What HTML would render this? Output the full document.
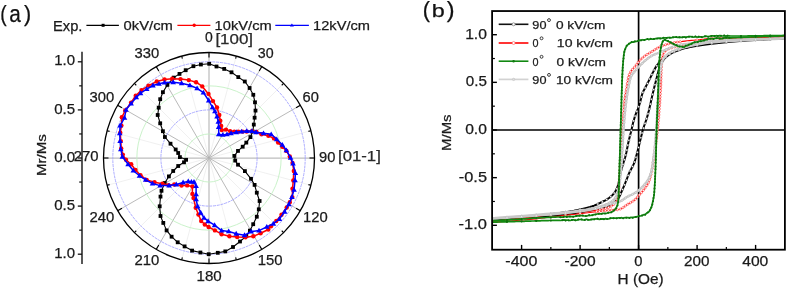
<!DOCTYPE html>
<html><head><meta charset="utf-8"><style>
html,body{margin:0;padding:0;background:#fff;}
svg{display:block;will-change:transform;}
text{font-family:"Liberation Sans", sans-serif;}
</style></head><body>
<svg width="787" height="289" viewBox="0 0 787 289">
<rect width="787" height="289" fill="#fff"/>
<line x1="209.0" y1="158.0" x2="236.31" y2="56.09" stroke="#ececec" stroke-width="0.8"/>
<line x1="209.0" y1="158.0" x2="283.60" y2="83.40" stroke="#ececec" stroke-width="0.8"/>
<line x1="209.0" y1="158.0" x2="310.91" y2="130.69" stroke="#ececec" stroke-width="0.8"/>
<line x1="209.0" y1="158.0" x2="310.91" y2="185.31" stroke="#ececec" stroke-width="0.8"/>
<line x1="209.0" y1="158.0" x2="283.60" y2="232.60" stroke="#ececec" stroke-width="0.8"/>
<line x1="209.0" y1="158.0" x2="236.31" y2="259.91" stroke="#ececec" stroke-width="0.8"/>
<line x1="209.0" y1="158.0" x2="181.69" y2="259.91" stroke="#ececec" stroke-width="0.8"/>
<line x1="209.0" y1="158.0" x2="134.40" y2="232.60" stroke="#ececec" stroke-width="0.8"/>
<line x1="209.0" y1="158.0" x2="107.09" y2="185.31" stroke="#ececec" stroke-width="0.8"/>
<line x1="209.0" y1="158.0" x2="107.09" y2="130.69" stroke="#ececec" stroke-width="0.8"/>
<line x1="209.0" y1="158.0" x2="134.40" y2="83.40" stroke="#ececec" stroke-width="0.8"/>
<line x1="209.0" y1="158.0" x2="181.69" y2="56.09" stroke="#ececec" stroke-width="0.8"/>
<line x1="209.0" y1="158.0" x2="209.00" y2="52.50" stroke="#bdbdbd" stroke-width="1.25"/>
<line x1="209.0" y1="158.0" x2="261.75" y2="66.63" stroke="#acacac" stroke-width="0.85"/>
<line x1="209.0" y1="158.0" x2="300.37" y2="105.25" stroke="#acacac" stroke-width="0.85"/>
<line x1="209.0" y1="158.0" x2="314.50" y2="158.00" stroke="#bdbdbd" stroke-width="1.25"/>
<line x1="209.0" y1="158.0" x2="300.37" y2="210.75" stroke="#acacac" stroke-width="0.85"/>
<line x1="209.0" y1="158.0" x2="261.75" y2="249.37" stroke="#acacac" stroke-width="0.85"/>
<line x1="209.0" y1="158.0" x2="209.00" y2="263.50" stroke="#bdbdbd" stroke-width="1.25"/>
<line x1="209.0" y1="158.0" x2="156.25" y2="249.37" stroke="#acacac" stroke-width="0.85"/>
<line x1="209.0" y1="158.0" x2="117.63" y2="210.75" stroke="#acacac" stroke-width="0.85"/>
<line x1="209.0" y1="158.0" x2="103.50" y2="158.00" stroke="#bdbdbd" stroke-width="1.25"/>
<line x1="209.0" y1="158.0" x2="117.63" y2="105.25" stroke="#acacac" stroke-width="0.85"/>
<line x1="209.0" y1="158.0" x2="156.25" y2="66.63" stroke="#acacac" stroke-width="0.85"/>
<circle cx="209.0" cy="158.0" r="24.05" fill="none" stroke="#c4f0c4" stroke-width="0.9" stroke-dasharray="none"/>
<circle cx="209.0" cy="158.0" r="48.10" fill="none" stroke="#a4a4ff" stroke-width="0.9" stroke-dasharray="3,0.8"/>
<circle cx="209.0" cy="158.0" r="72.15" fill="none" stroke="#c4f0c4" stroke-width="0.9" stroke-dasharray="none"/>
<circle cx="209.0" cy="158.0" r="96.20" fill="none" stroke="#a4a4ff" stroke-width="0.9" stroke-dasharray="3,0.8"/>
<circle cx="209.0" cy="158.0" r="105.5" fill="none" stroke="#000" stroke-width="1.3"/>
<line x1="209.00" y1="52.50" x2="209.00" y2="57.50" stroke="#000" stroke-width="1.1"/>
<line x1="236.31" y1="56.09" x2="235.63" y2="58.61" stroke="#000" stroke-width="1.1"/>
<line x1="261.75" y1="66.63" x2="259.25" y2="70.96" stroke="#000" stroke-width="1.1"/>
<line x1="283.60" y1="83.40" x2="281.76" y2="85.24" stroke="#000" stroke-width="1.1"/>
<line x1="300.37" y1="105.25" x2="296.04" y2="107.75" stroke="#000" stroke-width="1.1"/>
<line x1="310.91" y1="130.69" x2="308.39" y2="131.37" stroke="#000" stroke-width="1.1"/>
<line x1="314.50" y1="158.00" x2="309.50" y2="158.00" stroke="#000" stroke-width="1.1"/>
<line x1="310.91" y1="185.31" x2="308.39" y2="184.63" stroke="#000" stroke-width="1.1"/>
<line x1="300.37" y1="210.75" x2="296.04" y2="208.25" stroke="#000" stroke-width="1.1"/>
<line x1="283.60" y1="232.60" x2="281.76" y2="230.76" stroke="#000" stroke-width="1.1"/>
<line x1="261.75" y1="249.37" x2="259.25" y2="245.04" stroke="#000" stroke-width="1.1"/>
<line x1="236.31" y1="259.91" x2="235.63" y2="257.39" stroke="#000" stroke-width="1.1"/>
<line x1="209.00" y1="263.50" x2="209.00" y2="258.50" stroke="#000" stroke-width="1.1"/>
<line x1="181.69" y1="259.91" x2="182.37" y2="257.39" stroke="#000" stroke-width="1.1"/>
<line x1="156.25" y1="249.37" x2="158.75" y2="245.04" stroke="#000" stroke-width="1.1"/>
<line x1="134.40" y1="232.60" x2="136.24" y2="230.76" stroke="#000" stroke-width="1.1"/>
<line x1="117.63" y1="210.75" x2="121.96" y2="208.25" stroke="#000" stroke-width="1.1"/>
<line x1="107.09" y1="185.31" x2="109.61" y2="184.63" stroke="#000" stroke-width="1.1"/>
<line x1="103.50" y1="158.00" x2="108.50" y2="158.00" stroke="#000" stroke-width="1.1"/>
<line x1="107.09" y1="130.69" x2="109.61" y2="131.37" stroke="#000" stroke-width="1.1"/>
<line x1="117.63" y1="105.25" x2="121.96" y2="107.75" stroke="#000" stroke-width="1.1"/>
<line x1="134.40" y1="83.40" x2="136.24" y2="85.24" stroke="#000" stroke-width="1.1"/>
<line x1="156.25" y1="66.63" x2="158.75" y2="70.96" stroke="#000" stroke-width="1.1"/>
<line x1="181.69" y1="56.09" x2="182.37" y2="58.61" stroke="#000" stroke-width="1.1"/>
<polyline points="209.2,63.8 216.5,66.5 224.2,68.9 231.5,72.3 238.3,77.1 244.8,81.5 249.6,88.0 253.3,94.8 255.0,102.3 255.5,110.6 254.6,117.7 253.8,124.6 252.7,131.5 250.4,137.1 246.3,142.6 242.7,146.7 238.0,150.9 234.4,155.9 235.2,160.6 238.0,164.7 244.9,171.1 251.0,178.8 254.6,184.9 256.8,192.7 259.6,201.0 258.8,209.3 256.8,216.7 253.2,224.2 249.9,230.6 246.3,236.1 240.0,241.5 233.0,247.0 225.3,251.4 217.8,252.8 208.7,254.2 200.4,252.5 192.1,250.6 184.6,246.4 177.7,242.3 171.6,236.7 166.6,230.4 163.3,222.9 160.5,216.0 159.7,206.3 160.5,196.6 161.5,190.8 164.7,183.0 168.9,176.4 173.2,171.0 178.2,166.0 184.0,162.3 186.1,159.8 179.9,157.1 178.2,153.0 175.7,149.5 170.5,143.7 164.9,137.0 162.9,131.2 160.2,123.3 157.7,115.0 158.7,107.7 160.2,99.2 162.9,92.2 167.4,84.9 173.7,77.6 179.5,73.9 185.7,70.2 193.4,66.2 200.9,64.5 209.2,63.8" fill="none" stroke="#000" stroke-width="1.1" stroke-linejoin="round" />
<rect x="207.30" y="61.90" width="3.8" height="3.8" fill="#000"/>
<rect x="214.60" y="64.60" width="3.8" height="3.8" fill="#000"/>
<rect x="222.30" y="67.00" width="3.8" height="3.8" fill="#000"/>
<rect x="229.60" y="70.40" width="3.8" height="3.8" fill="#000"/>
<rect x="236.40" y="75.20" width="3.8" height="3.8" fill="#000"/>
<rect x="242.90" y="79.60" width="3.8" height="3.8" fill="#000"/>
<rect x="247.70" y="86.10" width="3.8" height="3.8" fill="#000"/>
<rect x="251.40" y="92.90" width="3.8" height="3.8" fill="#000"/>
<rect x="253.10" y="100.40" width="3.8" height="3.8" fill="#000"/>
<rect x="253.60" y="108.70" width="3.8" height="3.8" fill="#000"/>
<rect x="252.70" y="115.80" width="3.8" height="3.8" fill="#000"/>
<rect x="251.90" y="122.70" width="3.8" height="3.8" fill="#000"/>
<rect x="250.80" y="129.60" width="3.8" height="3.8" fill="#000"/>
<rect x="248.50" y="135.20" width="3.8" height="3.8" fill="#000"/>
<rect x="244.40" y="140.70" width="3.8" height="3.8" fill="#000"/>
<rect x="240.80" y="144.80" width="3.8" height="3.8" fill="#000"/>
<rect x="236.10" y="149.00" width="3.8" height="3.8" fill="#000"/>
<rect x="232.50" y="154.00" width="3.8" height="3.8" fill="#000"/>
<rect x="233.30" y="158.70" width="3.8" height="3.8" fill="#000"/>
<rect x="236.10" y="162.80" width="3.8" height="3.8" fill="#000"/>
<rect x="243.00" y="169.20" width="3.8" height="3.8" fill="#000"/>
<rect x="249.10" y="176.90" width="3.8" height="3.8" fill="#000"/>
<rect x="252.70" y="183.00" width="3.8" height="3.8" fill="#000"/>
<rect x="254.90" y="190.80" width="3.8" height="3.8" fill="#000"/>
<rect x="257.70" y="199.10" width="3.8" height="3.8" fill="#000"/>
<rect x="256.90" y="207.40" width="3.8" height="3.8" fill="#000"/>
<rect x="254.90" y="214.80" width="3.8" height="3.8" fill="#000"/>
<rect x="251.30" y="222.30" width="3.8" height="3.8" fill="#000"/>
<rect x="248.00" y="228.70" width="3.8" height="3.8" fill="#000"/>
<rect x="244.40" y="234.20" width="3.8" height="3.8" fill="#000"/>
<rect x="238.10" y="239.60" width="3.8" height="3.8" fill="#000"/>
<rect x="231.10" y="245.10" width="3.8" height="3.8" fill="#000"/>
<rect x="223.40" y="249.50" width="3.8" height="3.8" fill="#000"/>
<rect x="215.90" y="250.90" width="3.8" height="3.8" fill="#000"/>
<rect x="206.80" y="252.30" width="3.8" height="3.8" fill="#000"/>
<rect x="198.50" y="250.60" width="3.8" height="3.8" fill="#000"/>
<rect x="190.20" y="248.70" width="3.8" height="3.8" fill="#000"/>
<rect x="182.70" y="244.50" width="3.8" height="3.8" fill="#000"/>
<rect x="175.80" y="240.40" width="3.8" height="3.8" fill="#000"/>
<rect x="169.70" y="234.80" width="3.8" height="3.8" fill="#000"/>
<rect x="164.70" y="228.50" width="3.8" height="3.8" fill="#000"/>
<rect x="161.40" y="221.00" width="3.8" height="3.8" fill="#000"/>
<rect x="158.60" y="214.10" width="3.8" height="3.8" fill="#000"/>
<rect x="157.80" y="204.40" width="3.8" height="3.8" fill="#000"/>
<rect x="158.60" y="194.70" width="3.8" height="3.8" fill="#000"/>
<rect x="159.60" y="188.90" width="3.8" height="3.8" fill="#000"/>
<rect x="162.80" y="181.10" width="3.8" height="3.8" fill="#000"/>
<rect x="167.00" y="174.50" width="3.8" height="3.8" fill="#000"/>
<rect x="171.30" y="169.10" width="3.8" height="3.8" fill="#000"/>
<rect x="176.30" y="164.10" width="3.8" height="3.8" fill="#000"/>
<rect x="182.10" y="160.40" width="3.8" height="3.8" fill="#000"/>
<rect x="184.20" y="157.90" width="3.8" height="3.8" fill="#000"/>
<rect x="178.00" y="155.20" width="3.8" height="3.8" fill="#000"/>
<rect x="176.30" y="151.10" width="3.8" height="3.8" fill="#000"/>
<rect x="173.80" y="147.60" width="3.8" height="3.8" fill="#000"/>
<rect x="168.60" y="141.80" width="3.8" height="3.8" fill="#000"/>
<rect x="163.00" y="135.10" width="3.8" height="3.8" fill="#000"/>
<rect x="161.00" y="129.30" width="3.8" height="3.8" fill="#000"/>
<rect x="158.30" y="121.40" width="3.8" height="3.8" fill="#000"/>
<rect x="155.80" y="113.10" width="3.8" height="3.8" fill="#000"/>
<rect x="156.80" y="105.80" width="3.8" height="3.8" fill="#000"/>
<rect x="158.30" y="97.30" width="3.8" height="3.8" fill="#000"/>
<rect x="161.00" y="90.30" width="3.8" height="3.8" fill="#000"/>
<rect x="165.50" y="83.00" width="3.8" height="3.8" fill="#000"/>
<rect x="171.80" y="75.70" width="3.8" height="3.8" fill="#000"/>
<rect x="177.60" y="72.00" width="3.8" height="3.8" fill="#000"/>
<rect x="183.80" y="68.30" width="3.8" height="3.8" fill="#000"/>
<rect x="191.50" y="64.30" width="3.8" height="3.8" fill="#000"/>
<rect x="199.00" y="62.60" width="3.8" height="3.8" fill="#000"/>
<polyline points="221.8,130.1 226.0,129.6 230.1,131.1 234.3,131.6 238.4,131.6 242.6,131.6 246.7,131.6 251.9,131.1 256.5,132.0 261.5,134.3 268.4,135.7 274.0,138.4 278.1,142.6 282.3,146.7 286.4,150.9 289.8,156.4 292.5,163.0 293.8,171.0 293.3,180.4 292.5,188.8 292.3,197.1 289.8,202.3 286.7,207.5 281.5,214.8 276.3,221.0 271.0,226.3 268.3,229.5 260.6,233.2 253.3,236.3 245.5,237.3 237.2,237.0 229.4,236.3 221.6,234.2 214.9,230.4 208.6,227.0 204.8,224.5 201.2,221.0 198.4,214.6 195.7,207.7 193.5,198.0 192.4,193.9 192.4,186.4 187.2,185.4 181.5,185.6 174.3,184.5 168.5,185.1 162.3,183.8 154.5,182.2 146.7,179.9 140.5,175.2 135.5,170.0 131.2,164.3 126.0,159.8 122.8,154.6 121.2,148.4 120.8,141.1 120.3,132.8 121.4,125.6 121.8,117.3 125.2,110.5 131.1,102.6 135.7,95.7 141.5,90.1 148.5,85.6 156.8,81.5 164.5,79.5 172.2,78.7 180.5,79.1 188.8,80.1 196.1,82.2 202.3,86.4 208.5,93.9 213.0,101.1 217.0,107.5 219.3,115.0 220.3,120.8 221.2,126.0 221.8,130.1" fill="none" stroke="#f00" stroke-width="1.5" stroke-linejoin="round" />
<circle cx="221.80" cy="130.10" r="2.2" fill="#f00"/>
<circle cx="226.00" cy="129.60" r="2.2" fill="#f00"/>
<circle cx="230.10" cy="131.10" r="2.2" fill="#f00"/>
<circle cx="234.30" cy="131.60" r="2.2" fill="#f00"/>
<circle cx="238.40" cy="131.60" r="2.2" fill="#f00"/>
<circle cx="242.60" cy="131.60" r="2.2" fill="#f00"/>
<circle cx="246.70" cy="131.60" r="2.2" fill="#f00"/>
<circle cx="251.90" cy="131.10" r="2.2" fill="#f00"/>
<circle cx="256.50" cy="132.00" r="2.2" fill="#f00"/>
<circle cx="261.50" cy="134.30" r="2.2" fill="#f00"/>
<circle cx="268.40" cy="135.70" r="2.2" fill="#f00"/>
<circle cx="274.00" cy="138.40" r="2.2" fill="#f00"/>
<circle cx="278.10" cy="142.60" r="2.2" fill="#f00"/>
<circle cx="282.30" cy="146.70" r="2.2" fill="#f00"/>
<circle cx="286.40" cy="150.90" r="2.2" fill="#f00"/>
<circle cx="289.80" cy="156.40" r="2.2" fill="#f00"/>
<circle cx="292.50" cy="163.00" r="2.2" fill="#f00"/>
<circle cx="293.80" cy="171.00" r="2.2" fill="#f00"/>
<circle cx="293.30" cy="180.40" r="2.2" fill="#f00"/>
<circle cx="292.50" cy="188.80" r="2.2" fill="#f00"/>
<circle cx="292.30" cy="197.10" r="2.2" fill="#f00"/>
<circle cx="289.80" cy="202.30" r="2.2" fill="#f00"/>
<circle cx="286.70" cy="207.50" r="2.2" fill="#f00"/>
<circle cx="281.50" cy="214.80" r="2.2" fill="#f00"/>
<circle cx="276.30" cy="221.00" r="2.2" fill="#f00"/>
<circle cx="271.00" cy="226.30" r="2.2" fill="#f00"/>
<circle cx="268.30" cy="229.50" r="2.2" fill="#f00"/>
<circle cx="260.60" cy="233.20" r="2.2" fill="#f00"/>
<circle cx="253.30" cy="236.30" r="2.2" fill="#f00"/>
<circle cx="245.50" cy="237.30" r="2.2" fill="#f00"/>
<circle cx="237.20" cy="237.00" r="2.2" fill="#f00"/>
<circle cx="229.40" cy="236.30" r="2.2" fill="#f00"/>
<circle cx="221.60" cy="234.20" r="2.2" fill="#f00"/>
<circle cx="214.90" cy="230.40" r="2.2" fill="#f00"/>
<circle cx="208.60" cy="227.00" r="2.2" fill="#f00"/>
<circle cx="204.80" cy="224.50" r="2.2" fill="#f00"/>
<circle cx="201.20" cy="221.00" r="2.2" fill="#f00"/>
<circle cx="198.40" cy="214.60" r="2.2" fill="#f00"/>
<circle cx="195.70" cy="207.70" r="2.2" fill="#f00"/>
<circle cx="193.50" cy="198.00" r="2.2" fill="#f00"/>
<circle cx="192.40" cy="193.90" r="2.2" fill="#f00"/>
<circle cx="192.40" cy="186.40" r="2.2" fill="#f00"/>
<circle cx="187.20" cy="185.40" r="2.2" fill="#f00"/>
<circle cx="181.50" cy="185.60" r="2.2" fill="#f00"/>
<circle cx="174.30" cy="184.50" r="2.2" fill="#f00"/>
<circle cx="168.50" cy="185.10" r="2.2" fill="#f00"/>
<circle cx="162.30" cy="183.80" r="2.2" fill="#f00"/>
<circle cx="154.50" cy="182.20" r="2.2" fill="#f00"/>
<circle cx="146.70" cy="179.90" r="2.2" fill="#f00"/>
<circle cx="140.50" cy="175.20" r="2.2" fill="#f00"/>
<circle cx="135.50" cy="170.00" r="2.2" fill="#f00"/>
<circle cx="131.20" cy="164.30" r="2.2" fill="#f00"/>
<circle cx="126.00" cy="159.80" r="2.2" fill="#f00"/>
<circle cx="122.80" cy="154.60" r="2.2" fill="#f00"/>
<circle cx="121.20" cy="148.40" r="2.2" fill="#f00"/>
<circle cx="120.80" cy="141.10" r="2.2" fill="#f00"/>
<circle cx="120.30" cy="132.80" r="2.2" fill="#f00"/>
<circle cx="121.40" cy="125.60" r="2.2" fill="#f00"/>
<circle cx="121.80" cy="117.30" r="2.2" fill="#f00"/>
<circle cx="125.20" cy="110.50" r="2.2" fill="#f00"/>
<circle cx="131.10" cy="102.60" r="2.2" fill="#f00"/>
<circle cx="135.70" cy="95.70" r="2.2" fill="#f00"/>
<circle cx="141.50" cy="90.10" r="2.2" fill="#f00"/>
<circle cx="148.50" cy="85.60" r="2.2" fill="#f00"/>
<circle cx="156.80" cy="81.50" r="2.2" fill="#f00"/>
<circle cx="164.50" cy="79.50" r="2.2" fill="#f00"/>
<circle cx="172.20" cy="78.70" r="2.2" fill="#f00"/>
<circle cx="180.50" cy="79.10" r="2.2" fill="#f00"/>
<circle cx="188.80" cy="80.10" r="2.2" fill="#f00"/>
<circle cx="196.10" cy="82.20" r="2.2" fill="#f00"/>
<circle cx="202.30" cy="86.40" r="2.2" fill="#f00"/>
<circle cx="208.50" cy="93.90" r="2.2" fill="#f00"/>
<circle cx="213.00" cy="101.10" r="2.2" fill="#f00"/>
<circle cx="217.00" cy="107.50" r="2.2" fill="#f00"/>
<circle cx="219.30" cy="115.00" r="2.2" fill="#f00"/>
<circle cx="220.30" cy="120.80" r="2.2" fill="#f00"/>
<circle cx="221.20" cy="126.00" r="2.2" fill="#f00"/>
<polyline points="218.7,134.3 222.8,134.9 227.0,134.3 231.1,133.2 236.3,132.2 241.5,131.6 246.7,131.1 251.9,131.1 256.0,132.2 263.5,133.3 271.2,134.3 276.7,139.3 282.3,144.8 286.4,150.3 290.6,157.8 293.0,163.5 295.4,173.1 295.0,180.4 294.0,189.8 291.9,197.1 288.8,204.4 284.6,211.7 279.4,219.0 273.3,223.7 266.8,226.9 259.0,230.6 251.2,231.6 244.5,235.2 236.2,233.7 228.7,231.4 221.6,230.6 214.6,225.2 208.1,221.2 204.0,217.8 200.7,212.7 197.6,206.3 196.1,199.4 196.1,194.4 196.1,186.1 194.0,181.9 191.4,181.9 188.3,181.4 183.1,182.5 176.3,184.5 169.1,185.6 160.2,185.6 152.5,183.5 145.7,179.9 139.5,175.8 133.3,170.6 128.1,164.3 122.4,156.7 120.8,149.4 120.1,141.1 119.7,133.3 120.1,125.6 124.5,117.9 126.0,109.8 131.1,103.6 136.3,97.4 140.5,93.2 146.7,89.1 152.9,85.5 159.0,83.8 164.5,82.6 173.2,82.2 181.6,83.2 189.9,85.3 197.1,88.4 203.4,92.6 208.7,100.5 212.5,107.3 214.9,111.4 217.0,116.6 218.3,121.8 218.7,127.0 218.7,134.3" fill="none" stroke="#00f" stroke-width="1.5" stroke-linejoin="round" />
<path d="M218.70,131.38L221.50,136.25L215.90,136.25Z" fill="#00f"/>
<path d="M222.80,131.98L225.60,136.85L220.00,136.85Z" fill="#00f"/>
<path d="M227.00,131.38L229.80,136.25L224.20,136.25Z" fill="#00f"/>
<path d="M231.10,130.28L233.90,135.15L228.30,135.15Z" fill="#00f"/>
<path d="M236.30,129.28L239.10,134.15L233.50,134.15Z" fill="#00f"/>
<path d="M241.50,128.68L244.30,133.55L238.70,133.55Z" fill="#00f"/>
<path d="M246.70,128.18L249.50,133.05L243.90,133.05Z" fill="#00f"/>
<path d="M251.90,128.18L254.70,133.05L249.10,133.05Z" fill="#00f"/>
<path d="M256.00,129.28L258.80,134.15L253.20,134.15Z" fill="#00f"/>
<path d="M263.50,130.38L266.30,135.25L260.70,135.25Z" fill="#00f"/>
<path d="M271.20,131.38L274.00,136.25L268.40,136.25Z" fill="#00f"/>
<path d="M276.70,136.38L279.50,141.25L273.90,141.25Z" fill="#00f"/>
<path d="M282.30,141.88L285.10,146.75L279.50,146.75Z" fill="#00f"/>
<path d="M286.40,147.38L289.20,152.25L283.60,152.25Z" fill="#00f"/>
<path d="M290.60,154.88L293.40,159.75L287.80,159.75Z" fill="#00f"/>
<path d="M293.00,160.58L295.80,165.45L290.20,165.45Z" fill="#00f"/>
<path d="M295.40,170.18L298.20,175.05L292.60,175.05Z" fill="#00f"/>
<path d="M295.00,177.48L297.80,182.35L292.20,182.35Z" fill="#00f"/>
<path d="M294.00,186.88L296.80,191.75L291.20,191.75Z" fill="#00f"/>
<path d="M291.90,194.18L294.70,199.05L289.10,199.05Z" fill="#00f"/>
<path d="M288.80,201.48L291.60,206.35L286.00,206.35Z" fill="#00f"/>
<path d="M284.60,208.78L287.40,213.65L281.80,213.65Z" fill="#00f"/>
<path d="M279.40,216.08L282.20,220.95L276.60,220.95Z" fill="#00f"/>
<path d="M273.30,220.78L276.10,225.65L270.50,225.65Z" fill="#00f"/>
<path d="M266.80,223.98L269.60,228.85L264.00,228.85Z" fill="#00f"/>
<path d="M259.00,227.68L261.80,232.55L256.20,232.55Z" fill="#00f"/>
<path d="M251.20,228.68L254.00,233.55L248.40,233.55Z" fill="#00f"/>
<path d="M244.50,232.28L247.30,237.15L241.70,237.15Z" fill="#00f"/>
<path d="M236.20,230.78L239.00,235.65L233.40,235.65Z" fill="#00f"/>
<path d="M228.70,228.48L231.50,233.35L225.90,233.35Z" fill="#00f"/>
<path d="M221.60,227.68L224.40,232.55L218.80,232.55Z" fill="#00f"/>
<path d="M214.60,222.28L217.40,227.15L211.80,227.15Z" fill="#00f"/>
<path d="M208.10,218.28L210.90,223.15L205.30,223.15Z" fill="#00f"/>
<path d="M204.00,214.88L206.80,219.75L201.20,219.75Z" fill="#00f"/>
<path d="M200.70,209.78L203.50,214.65L197.90,214.65Z" fill="#00f"/>
<path d="M197.60,203.38L200.40,208.25L194.80,208.25Z" fill="#00f"/>
<path d="M196.10,196.48L198.90,201.35L193.30,201.35Z" fill="#00f"/>
<path d="M196.10,191.48L198.90,196.35L193.30,196.35Z" fill="#00f"/>
<path d="M196.10,183.18L198.90,188.05L193.30,188.05Z" fill="#00f"/>
<path d="M194.00,178.98L196.80,183.85L191.20,183.85Z" fill="#00f"/>
<path d="M191.40,178.98L194.20,183.85L188.60,183.85Z" fill="#00f"/>
<path d="M188.30,178.48L191.10,183.35L185.50,183.35Z" fill="#00f"/>
<path d="M183.10,179.58L185.90,184.45L180.30,184.45Z" fill="#00f"/>
<path d="M176.30,181.58L179.10,186.45L173.50,186.45Z" fill="#00f"/>
<path d="M169.10,182.68L171.90,187.55L166.30,187.55Z" fill="#00f"/>
<path d="M160.20,182.68L163.00,187.55L157.40,187.55Z" fill="#00f"/>
<path d="M152.50,180.58L155.30,185.45L149.70,185.45Z" fill="#00f"/>
<path d="M145.70,176.98L148.50,181.85L142.90,181.85Z" fill="#00f"/>
<path d="M139.50,172.88L142.30,177.75L136.70,177.75Z" fill="#00f"/>
<path d="M133.30,167.68L136.10,172.55L130.50,172.55Z" fill="#00f"/>
<path d="M128.10,161.38L130.90,166.25L125.30,166.25Z" fill="#00f"/>
<path d="M122.40,153.78L125.20,158.65L119.60,158.65Z" fill="#00f"/>
<path d="M120.80,146.48L123.60,151.35L118.00,151.35Z" fill="#00f"/>
<path d="M120.10,138.18L122.90,143.05L117.30,143.05Z" fill="#00f"/>
<path d="M119.70,130.38L122.50,135.25L116.90,135.25Z" fill="#00f"/>
<path d="M120.10,122.68L122.90,127.55L117.30,127.55Z" fill="#00f"/>
<path d="M124.50,114.98L127.30,119.85L121.70,119.85Z" fill="#00f"/>
<path d="M126.00,106.88L128.80,111.75L123.20,111.75Z" fill="#00f"/>
<path d="M131.10,100.68L133.90,105.55L128.30,105.55Z" fill="#00f"/>
<path d="M136.30,94.48L139.10,99.35L133.50,99.35Z" fill="#00f"/>
<path d="M140.50,90.28L143.30,95.15L137.70,95.15Z" fill="#00f"/>
<path d="M146.70,86.18L149.50,91.05L143.90,91.05Z" fill="#00f"/>
<path d="M152.90,82.58L155.70,87.45L150.10,87.45Z" fill="#00f"/>
<path d="M159.00,80.88L161.80,85.75L156.20,85.75Z" fill="#00f"/>
<path d="M164.50,79.68L167.30,84.55L161.70,84.55Z" fill="#00f"/>
<path d="M173.20,79.28L176.00,84.15L170.40,84.15Z" fill="#00f"/>
<path d="M181.60,80.28L184.40,85.15L178.80,85.15Z" fill="#00f"/>
<path d="M189.90,82.38L192.70,87.25L187.10,87.25Z" fill="#00f"/>
<path d="M197.10,85.48L199.90,90.35L194.30,90.35Z" fill="#00f"/>
<path d="M203.40,89.68L206.20,94.55L200.60,94.55Z" fill="#00f"/>
<path d="M208.70,97.58L211.50,102.45L205.90,102.45Z" fill="#00f"/>
<path d="M212.50,104.38L215.30,109.25L209.70,109.25Z" fill="#00f"/>
<path d="M214.90,108.48L217.70,113.35L212.10,113.35Z" fill="#00f"/>
<path d="M217.00,113.68L219.80,118.55L214.20,118.55Z" fill="#00f"/>
<path d="M218.30,118.88L221.10,123.75L215.50,123.75Z" fill="#00f"/>
<path d="M218.70,124.08L221.50,128.95L215.90,128.95Z" fill="#00f"/>
<line x1="82" y1="51.7" x2="82" y2="264" stroke="#111" stroke-width="1.4"/>
<line x1="77.8" y1="254.20" x2="82" y2="254.20" stroke="#111" stroke-width="1.3"/>
<line x1="77.8" y1="206.10" x2="82" y2="206.10" stroke="#111" stroke-width="1.3"/>
<line x1="77.8" y1="158.00" x2="82" y2="158.00" stroke="#111" stroke-width="1.3"/>
<line x1="77.8" y1="109.90" x2="82" y2="109.90" stroke="#111" stroke-width="1.3"/>
<line x1="77.8" y1="61.80" x2="82" y2="61.80" stroke="#111" stroke-width="1.3"/>
<line x1="79.2" y1="230.15" x2="82" y2="230.15" stroke="#111" stroke-width="1.2"/>
<line x1="79.2" y1="182.05" x2="82" y2="182.05" stroke="#111" stroke-width="1.2"/>
<line x1="79.2" y1="133.95" x2="82" y2="133.95" stroke="#111" stroke-width="1.2"/>
<line x1="79.2" y1="85.85" x2="82" y2="85.85" stroke="#111" stroke-width="1.2"/>
<text x="54.30" y="65.46" font-size="14.23" fill="#1a1a1a" stroke="#1a1a1a" stroke-width="0.25" textLength="20.80" lengthAdjust="spacingAndGlyphs" >1.0</text>
<text x="54.20" y="113.56" font-size="14.23" fill="#1a1a1a" stroke="#1a1a1a" stroke-width="0.25" textLength="20.91" lengthAdjust="spacingAndGlyphs" >0.5</text>
<text x="54.20" y="161.66" font-size="14.23" fill="#1a1a1a" stroke="#1a1a1a" stroke-width="0.25" textLength="20.91" lengthAdjust="spacingAndGlyphs" >0.0</text>
<text x="54.20" y="209.76" font-size="14.23" fill="#1a1a1a" stroke="#1a1a1a" stroke-width="0.25" textLength="20.91" lengthAdjust="spacingAndGlyphs" >0.5</text>
<text x="54.30" y="257.86" font-size="14.23" fill="#1a1a1a" stroke="#1a1a1a" stroke-width="0.25" textLength="20.80" lengthAdjust="spacingAndGlyphs" >1.0</text>
<text x="204.94" y="41.66" font-size="14.23" fill="#1a1a1a" stroke="#1a1a1a" stroke-width="0.25" textLength="7.76" lengthAdjust="spacingAndGlyphs" >0</text>
<text x="257.78" y="57.86" font-size="14.23" fill="#1a1a1a" stroke="#1a1a1a" stroke-width="0.25" textLength="15.82" lengthAdjust="spacingAndGlyphs" >30</text>
<text x="302.62" y="101.66" font-size="14.08" fill="#1a1a1a" stroke="#1a1a1a" stroke-width="0.25" textLength="16.30" lengthAdjust="spacingAndGlyphs" >60</text>
<text x="318.96" y="161.55" font-size="14.65" fill="#1a1a1a" stroke="#1a1a1a" stroke-width="0.25" textLength="16.36" lengthAdjust="spacingAndGlyphs" >90</text>
<text x="303.02" y="221.56" font-size="14.23" fill="#1a1a1a" stroke="#1a1a1a" stroke-width="0.25" textLength="24.65" lengthAdjust="spacingAndGlyphs" >120</text>
<text x="257.81" y="265.26" font-size="14.23" fill="#1a1a1a" stroke="#1a1a1a" stroke-width="0.25" textLength="24.87" lengthAdjust="spacingAndGlyphs" >150</text>
<text x="196.49" y="281.26" font-size="14.23" fill="#1a1a1a" stroke="#1a1a1a" stroke-width="0.25" textLength="25.19" lengthAdjust="spacingAndGlyphs" >180</text>
<text x="134.46" y="265.26" font-size="14.23" fill="#1a1a1a" stroke="#1a1a1a" stroke-width="0.25" textLength="24.82" lengthAdjust="spacingAndGlyphs" >210</text>
<text x="89.46" y="221.55" font-size="14.65" fill="#1a1a1a" stroke="#1a1a1a" stroke-width="0.25" textLength="24.82" lengthAdjust="spacingAndGlyphs" >240</text>
<text x="73.76" y="161.46" font-size="14.08" fill="#1a1a1a" stroke="#1a1a1a" stroke-width="0.25" textLength="24.82" lengthAdjust="spacingAndGlyphs" >270</text>
<text x="89.61" y="101.56" font-size="14.23" fill="#1a1a1a" stroke="#1a1a1a" stroke-width="0.25" textLength="24.66" lengthAdjust="spacingAndGlyphs" >300</text>
<text x="134.61" y="57.66" font-size="13.94" fill="#1a1a1a" stroke="#1a1a1a" stroke-width="0.25" textLength="24.66" lengthAdjust="spacingAndGlyphs" >330</text>
<text x="215.42" y="43.87" font-size="13.94" fill="#2a2a2a" stroke="#2a2a2a" stroke-width="0.25" textLength="37.64" lengthAdjust="spacingAndGlyphs" >[100]</text>
<text x="338.03" y="160.67" font-size="13.94" fill="#2a2a2a" stroke="#2a2a2a" stroke-width="0.25" textLength="42.80" lengthAdjust="spacingAndGlyphs" >[01-1]</text>
<text x="0" y="0" font-size="12.97" fill="#1a1a1a" stroke="#1a1a1a" stroke-width="0.25" textLength="41.86" lengthAdjust="spacingAndGlyphs" transform="translate(45.87,176.11) rotate(-90)">Mr/Ms</text>
<text x="0.35" y="21.13" font-size="22.23" fill="#111" stroke="#111" stroke-width="0.25" textLength="6.41" lengthAdjust="spacingAndGlyphs" >(</text>
<text x="9.37" y="21.77" font-size="23.09" fill="#111" stroke="#111" stroke-width="0.25" textLength="11.55" lengthAdjust="spacingAndGlyphs" >a</text>
<text x="23.98" y="21.13" font-size="22.23" fill="#111" stroke="#111" stroke-width="0.25" textLength="7.18" lengthAdjust="spacingAndGlyphs" >)</text>
<text x="53.02" y="31.43" font-size="15.11" fill="#1a1a1a" stroke="#1a1a1a" stroke-width="0.25" textLength="29.41" lengthAdjust="spacingAndGlyphs" >Exp.</text>
<line x1="86.4" y1="25.3" x2="118.9" y2="25.3" stroke="#000" stroke-width="1.3"/>
<rect x="101.6" y="23.8" width="3" height="3" fill="#000"/>
<text x="123.61" y="30.06" font-size="13.51" fill="#1a1a1a" stroke="#1a1a1a" stroke-width="0.25" textLength="49.24" lengthAdjust="spacingAndGlyphs" >0kV/cm</text>
<line x1="177.4" y1="25.3" x2="210.4" y2="25.3" stroke="#f00" stroke-width="1.3"/>
<circle cx="194.2" cy="25.3" r="1.7" fill="#f00"/>
<text x="214.63" y="30.06" font-size="13.51" fill="#1a1a1a" stroke="#1a1a1a" stroke-width="0.25" textLength="57.10" lengthAdjust="spacingAndGlyphs" >10kV/cm</text>
<line x1="275.3" y1="25.3" x2="308.9" y2="25.3" stroke="#00f" stroke-width="1.3"/>
<path d="M291.90,23.38L293.90,26.58L289.90,26.58Z" fill="#00f"/>
<text x="313.13" y="30.07" font-size="13.38" fill="#1a1a1a" stroke="#1a1a1a" stroke-width="0.25" textLength="56.79" lengthAdjust="spacingAndGlyphs" >12kV/cm</text>
<text x="422.81" y="17.24" font-size="21.70" fill="#111" stroke="#111" stroke-width="0.25" textLength="7.17" lengthAdjust="spacingAndGlyphs" >(</text>
<text x="431.86" y="17.10" font-size="18.90" fill="#111" stroke="#111" stroke-width="0.25" textLength="13.02" lengthAdjust="spacingAndGlyphs" >b</text>
<text x="446.77" y="17.24" font-size="21.70" fill="#111" stroke="#111" stroke-width="0.25" textLength="7.82" lengthAdjust="spacingAndGlyphs" >)</text>
<line x1="492.1" y1="130" x2="784.9" y2="130" stroke="#000" stroke-width="1.7"/>
<line x1="638.6" y1="11.05" x2="638.6" y2="249.7" stroke="#000" stroke-width="1.7"/>
<clipPath id="cb"><rect x="492.1" y="11.05" width="292.79999999999995" height="238.64999999999998"/></clipPath>
<g clip-path="url(#cb)">
<polyline points="785.0,37.5 779.9,37.8 772.8,38.1 764.4,38.6 755.6,39.0 747.2,39.5 740.0,40.0 734.0,40.5 728.5,40.9 723.4,41.4 718.7,41.9 714.2,42.5 710.0,43.0 706.0,43.5 702.4,44.1 699.1,44.7 695.9,45.2 692.9,45.9 690.0,46.5 687.1,47.2 684.4,47.9 681.8,48.6 679.4,49.4 677.1,50.2 675.0,51.0 673.1,51.9 671.4,52.8 669.9,53.8 668.5,54.7 667.2,55.7 666.0,56.5 664.9,57.2 664.0,57.9 663.2,58.5 662.5,59.1 661.7,59.8 661.0,60.5 660.3,61.3 659.5,62.1 658.8,62.9 658.2,63.8 657.5,64.6 656.9,65.5 656.3,66.3 655.8,67.1 655.3,67.9 654.9,68.7 654.4,69.7 653.8,70.7 653.2,71.9 652.5,73.2 651.8,74.7 651.1,76.1 650.4,77.6 649.7,79.0 649.0,80.4 648.3,81.8 647.5,83.3 646.8,84.7 646.1,86.0 645.5,87.3 644.9,88.4 644.4,89.3 643.9,90.2 643.4,91.1 642.9,92.2 642.4,93.5 641.9,95.1 641.4,96.9 641.0,98.8 640.5,100.8 639.9,102.9 639.3,104.9 638.6,107.0 637.8,109.1 636.9,111.3 636.0,113.5 635.2,115.7 634.5,117.8 633.9,119.9 633.3,122.0 632.8,124.0 632.4,126.1 631.9,128.1 631.4,130.2 630.9,132.3 630.3,134.4 629.8,136.5 629.3,138.6 628.8,140.6 628.3,142.7 627.9,144.7 627.5,146.7 627.1,148.7 626.7,150.7 626.3,152.8 625.8,154.9 625.2,157.2 624.4,159.7 623.6,162.3 622.9,164.8 622.2,167.0 621.6,169.0 621.2,170.6 620.8,171.8 620.6,172.8 620.4,173.8 620.2,174.8 619.9,176.0 619.6,177.4 619.4,178.8 619.1,180.3 618.9,181.8 618.6,183.2 618.2,184.6 617.8,185.9 617.3,187.2 616.9,188.5 616.3,189.7 615.7,190.9 615.0,192.0 614.2,193.1 613.3,194.1 612.4,195.2 611.3,196.1 610.2,197.1 609.0,198.0 607.7,198.9 606.3,199.8 604.8,200.6 603.2,201.4 601.6,202.2 600.0,203.0 598.5,203.7 597.1,204.4 595.7,205.0 594.1,205.7 592.3,206.3 590.0,207.0 587.4,207.7 584.4,208.5 581.2,209.3 577.8,210.0 574.0,210.8 570.0,211.5 565.8,212.2 561.4,212.8 556.8,213.4 551.7,214.0 546.2,214.6 540.0,215.2 532.5,215.9 523.6,216.6 514.1,217.3 505.1,218.0 497.4,218.6 492.0,219.0" fill="none" stroke="#000" stroke-width="2.0" stroke-linejoin="round" />
<circle cx="680.85" cy="48.92" r="1.05" fill="#fff" stroke="#333" stroke-width="0.4"/>
<circle cx="676.13" cy="50.56" r="1.05" fill="#fff" stroke="#333" stroke-width="0.4"/>
<circle cx="671.62" cy="52.70" r="1.05" fill="#fff" stroke="#333" stroke-width="0.4"/>
<circle cx="667.46" cy="55.47" r="1.05" fill="#fff" stroke="#333" stroke-width="0.4"/>
<circle cx="663.39" cy="58.38" r="1.05" fill="#fff" stroke="#333" stroke-width="0.4"/>
<circle cx="659.77" cy="61.81" r="1.05" fill="#fff" stroke="#333" stroke-width="0.4"/>
<circle cx="656.72" cy="65.77" r="1.05" fill="#fff" stroke="#333" stroke-width="0.4"/>
<circle cx="654.15" cy="70.05" r="1.05" fill="#fff" stroke="#333" stroke-width="0.4"/>
<circle cx="651.89" cy="74.51" r="1.05" fill="#fff" stroke="#333" stroke-width="0.4"/>
<circle cx="649.70" cy="79.01" r="1.05" fill="#fff" stroke="#333" stroke-width="0.4"/>
<circle cx="647.44" cy="83.47" r="1.05" fill="#fff" stroke="#333" stroke-width="0.4"/>
<circle cx="645.17" cy="87.92" r="1.05" fill="#fff" stroke="#333" stroke-width="0.4"/>
<circle cx="642.84" cy="92.35" r="1.05" fill="#fff" stroke="#333" stroke-width="0.4"/>
<circle cx="641.37" cy="97.12" r="1.05" fill="#fff" stroke="#333" stroke-width="0.4"/>
<circle cx="640.15" cy="101.97" r="1.05" fill="#fff" stroke="#333" stroke-width="0.4"/>
<circle cx="638.66" cy="106.74" r="1.05" fill="#fff" stroke="#333" stroke-width="0.4"/>
<circle cx="636.86" cy="111.40" r="1.05" fill="#fff" stroke="#333" stroke-width="0.4"/>
<circle cx="635.08" cy="116.08" r="1.05" fill="#fff" stroke="#333" stroke-width="0.4"/>
<circle cx="633.63" cy="120.86" r="1.05" fill="#fff" stroke="#333" stroke-width="0.4"/>
<circle cx="632.45" cy="125.72" r="1.05" fill="#fff" stroke="#333" stroke-width="0.4"/>
<circle cx="631.30" cy="130.58" r="1.05" fill="#fff" stroke="#333" stroke-width="0.4"/>
<circle cx="630.07" cy="135.43" r="1.05" fill="#fff" stroke="#333" stroke-width="0.4"/>
<circle cx="628.87" cy="140.28" r="1.05" fill="#fff" stroke="#333" stroke-width="0.4"/>
<circle cx="627.78" cy="145.16" r="1.05" fill="#fff" stroke="#333" stroke-width="0.4"/>
<circle cx="626.86" cy="150.08" r="1.05" fill="#fff" stroke="#333" stroke-width="0.4"/>
<circle cx="625.78" cy="154.96" r="1.05" fill="#fff" stroke="#333" stroke-width="0.4"/>
<circle cx="624.42" cy="159.77" r="1.05" fill="#fff" stroke="#333" stroke-width="0.4"/>
<circle cx="622.94" cy="164.55" r="1.05" fill="#fff" stroke="#333" stroke-width="0.4"/>
<circle cx="621.51" cy="169.34" r="1.05" fill="#fff" stroke="#333" stroke-width="0.4"/>
<circle cx="620.29" cy="174.18" r="1.05" fill="#fff" stroke="#333" stroke-width="0.4"/>
<circle cx="619.34" cy="179.09" r="1.05" fill="#fff" stroke="#333" stroke-width="0.4"/>
<circle cx="618.36" cy="183.99" r="1.05" fill="#fff" stroke="#333" stroke-width="0.4"/>
<circle cx="616.75" cy="188.72" r="1.05" fill="#fff" stroke="#333" stroke-width="0.4"/>
<circle cx="614.24" cy="193.03" r="1.05" fill="#fff" stroke="#333" stroke-width="0.4"/>
<circle cx="610.76" cy="196.60" r="1.05" fill="#fff" stroke="#333" stroke-width="0.4"/>
<circle cx="606.70" cy="199.51" r="1.05" fill="#fff" stroke="#333" stroke-width="0.4"/>
<circle cx="602.30" cy="201.88" r="1.05" fill="#fff" stroke="#333" stroke-width="0.4"/>
<circle cx="597.80" cy="204.06" r="1.05" fill="#fff" stroke="#333" stroke-width="0.4"/>
<circle cx="492.35" cy="218.97" r="1.05" fill="#fff" stroke="#333" stroke-width="0.4"/>
<circle cx="506.98" cy="217.87" r="1.05" fill="#fff" stroke="#333" stroke-width="0.4"/>
<circle cx="521.60" cy="216.75" r="1.05" fill="#fff" stroke="#333" stroke-width="0.4"/>
<circle cx="536.23" cy="215.54" r="1.05" fill="#fff" stroke="#333" stroke-width="0.4"/>
<circle cx="550.85" cy="214.08" r="1.05" fill="#fff" stroke="#333" stroke-width="0.4"/>
<circle cx="565.48" cy="212.21" r="1.05" fill="#fff" stroke="#333" stroke-width="0.4"/>
<circle cx="580.10" cy="209.52" r="1.05" fill="#fff" stroke="#333" stroke-width="0.4"/>
<circle cx="697.10" cy="45.02" r="1.05" fill="#fff" stroke="#333" stroke-width="0.4"/>
<circle cx="711.73" cy="42.78" r="1.05" fill="#fff" stroke="#333" stroke-width="0.4"/>
<circle cx="726.35" cy="41.15" r="1.05" fill="#fff" stroke="#333" stroke-width="0.4"/>
<circle cx="740.98" cy="39.94" r="1.05" fill="#fff" stroke="#333" stroke-width="0.4"/>
<circle cx="755.60" cy="39.03" r="1.05" fill="#fff" stroke="#333" stroke-width="0.4"/>
<circle cx="770.23" cy="38.26" r="1.05" fill="#fff" stroke="#333" stroke-width="0.4"/>
<circle cx="784.85" cy="37.51" r="1.05" fill="#fff" stroke="#333" stroke-width="0.4"/>
<polyline points="492.0,219.6 497.4,219.3 505.1,218.8 514.1,218.3 523.6,217.7 532.5,217.1 540.0,216.6 546.0,216.2 551.3,215.7 556.1,215.3 560.7,214.9 565.2,214.4 570.0,213.8 575.2,213.1 580.7,212.2 586.1,211.3 591.3,210.3 596.0,209.4 600.0,208.5 603.1,207.7 605.5,207.0 607.5,206.3 609.1,205.5 610.5,204.8 612.0,204.0 613.4,203.2 614.6,202.3 615.6,201.4 616.6,200.5 617.4,199.5 618.2,198.5 618.9,197.5 619.5,196.4 620.0,195.4 620.5,194.2 621.0,193.0 621.6,191.6 622.3,190.0 623.0,188.3 623.8,186.5 624.6,184.7 625.3,182.9 626.0,181.2 626.6,179.7 627.2,178.2 627.7,176.7 628.2,175.3 628.8,173.9 629.4,172.5 630.1,171.1 630.9,169.6 631.6,168.2 632.4,166.8 633.1,165.4 633.8,163.9 634.4,162.5 634.8,161.0 635.3,159.6 635.7,158.2 636.1,156.6 636.6,154.9 637.1,153.1 637.6,151.1 638.1,149.0 638.7,146.9 639.2,144.8 639.7,142.7 640.2,140.6 640.7,138.6 641.2,136.5 641.7,134.4 642.2,132.3 642.8,130.2 643.4,128.1 644.1,126.0 644.9,123.9 645.6,121.8 646.3,119.8 646.9,117.8 647.5,115.9 648.0,114.0 648.4,112.2 648.9,110.4 649.3,108.7 649.7,107.0 650.1,105.4 650.5,103.8 650.8,102.2 651.1,100.7 651.5,99.2 651.8,97.7 652.1,96.3 652.5,94.9 652.8,93.5 653.1,92.1 653.5,90.8 653.8,89.4 654.1,88.0 654.5,86.6 654.8,85.2 655.2,83.9 655.5,82.5 655.9,81.1 656.2,79.7 656.6,78.4 656.9,77.0 657.2,75.6 657.6,74.2 658.0,72.8 658.4,71.3 658.9,69.8 659.3,68.3 659.8,66.8 660.4,65.4 661.0,64.0 661.7,62.7 662.4,61.5 663.1,60.3 664.0,59.2 664.9,58.1 666.0,57.0 667.2,56.0 668.5,55.0 669.9,54.1 671.4,53.2 673.1,52.3 675.0,51.5 677.1,50.7 679.4,49.9 681.8,49.1 684.4,48.4 687.1,47.7 690.0,47.0 692.9,46.4 695.9,45.9 699.1,45.4 702.4,44.9 706.0,44.5 710.0,44.0 714.2,43.5 718.7,43.0 723.4,42.5 728.5,42.0 734.0,41.5 740.0,41.0 747.2,40.5 755.6,40.0 764.4,39.6 772.8,39.1 779.9,38.8 785.0,38.5" fill="none" stroke="#000" stroke-width="2.0" stroke-linejoin="round" />
<circle cx="596.38" cy="209.29" r="1.05" fill="#fff" stroke="#333" stroke-width="0.4"/>
<circle cx="601.26" cy="208.18" r="1.05" fill="#fff" stroke="#333" stroke-width="0.4"/>
<circle cx="606.06" cy="206.79" r="1.05" fill="#fff" stroke="#333" stroke-width="0.4"/>
<circle cx="610.62" cy="204.76" r="1.05" fill="#fff" stroke="#333" stroke-width="0.4"/>
<circle cx="614.84" cy="202.09" r="1.05" fill="#fff" stroke="#333" stroke-width="0.4"/>
<circle cx="618.24" cy="198.44" r="1.05" fill="#fff" stroke="#333" stroke-width="0.4"/>
<circle cx="620.57" cy="194.04" r="1.05" fill="#fff" stroke="#333" stroke-width="0.4"/>
<circle cx="622.55" cy="189.45" r="1.05" fill="#fff" stroke="#333" stroke-width="0.4"/>
<circle cx="624.50" cy="184.84" r="1.05" fill="#fff" stroke="#333" stroke-width="0.4"/>
<circle cx="626.39" cy="180.21" r="1.05" fill="#fff" stroke="#333" stroke-width="0.4"/>
<circle cx="628.15" cy="175.53" r="1.05" fill="#fff" stroke="#333" stroke-width="0.4"/>
<circle cx="630.15" cy="170.96" r="1.05" fill="#fff" stroke="#333" stroke-width="0.4"/>
<circle cx="632.53" cy="166.56" r="1.05" fill="#fff" stroke="#333" stroke-width="0.4"/>
<circle cx="634.52" cy="161.98" r="1.05" fill="#fff" stroke="#333" stroke-width="0.4"/>
<circle cx="635.97" cy="157.19" r="1.05" fill="#fff" stroke="#333" stroke-width="0.4"/>
<circle cx="637.28" cy="152.37" r="1.05" fill="#fff" stroke="#333" stroke-width="0.4"/>
<circle cx="638.50" cy="147.52" r="1.05" fill="#fff" stroke="#333" stroke-width="0.4"/>
<circle cx="639.71" cy="142.67" r="1.05" fill="#fff" stroke="#333" stroke-width="0.4"/>
<circle cx="640.87" cy="137.80" r="1.05" fill="#fff" stroke="#333" stroke-width="0.4"/>
<circle cx="642.06" cy="132.95" r="1.05" fill="#fff" stroke="#333" stroke-width="0.4"/>
<circle cx="643.43" cy="128.14" r="1.05" fill="#fff" stroke="#333" stroke-width="0.4"/>
<circle cx="645.04" cy="123.41" r="1.05" fill="#fff" stroke="#333" stroke-width="0.4"/>
<circle cx="646.63" cy="118.67" r="1.05" fill="#fff" stroke="#333" stroke-width="0.4"/>
<circle cx="648.00" cy="113.86" r="1.05" fill="#fff" stroke="#333" stroke-width="0.4"/>
<circle cx="649.21" cy="109.01" r="1.05" fill="#fff" stroke="#333" stroke-width="0.4"/>
<circle cx="650.37" cy="104.14" r="1.05" fill="#fff" stroke="#333" stroke-width="0.4"/>
<circle cx="651.45" cy="99.26" r="1.05" fill="#fff" stroke="#333" stroke-width="0.4"/>
<circle cx="652.58" cy="94.39" r="1.05" fill="#fff" stroke="#333" stroke-width="0.4"/>
<circle cx="653.77" cy="89.53" r="1.05" fill="#fff" stroke="#333" stroke-width="0.4"/>
<circle cx="654.99" cy="84.68" r="1.05" fill="#fff" stroke="#333" stroke-width="0.4"/>
<circle cx="656.21" cy="79.84" r="1.05" fill="#fff" stroke="#333" stroke-width="0.4"/>
<circle cx="657.40" cy="74.98" r="1.05" fill="#fff" stroke="#333" stroke-width="0.4"/>
<circle cx="658.76" cy="70.17" r="1.05" fill="#fff" stroke="#333" stroke-width="0.4"/>
<circle cx="660.35" cy="65.43" r="1.05" fill="#fff" stroke="#333" stroke-width="0.4"/>
<circle cx="662.67" cy="61.01" r="1.05" fill="#fff" stroke="#333" stroke-width="0.4"/>
<circle cx="665.84" cy="57.16" r="1.05" fill="#fff" stroke="#333" stroke-width="0.4"/>
<circle cx="669.81" cy="54.14" r="1.05" fill="#fff" stroke="#333" stroke-width="0.4"/>
<circle cx="674.24" cy="51.84" r="1.05" fill="#fff" stroke="#333" stroke-width="0.4"/>
<circle cx="678.91" cy="50.03" r="1.05" fill="#fff" stroke="#333" stroke-width="0.4"/>
<circle cx="492.35" cy="219.58" r="1.05" fill="#fff" stroke="#333" stroke-width="0.4"/>
<circle cx="506.98" cy="218.70" r="1.05" fill="#fff" stroke="#333" stroke-width="0.4"/>
<circle cx="521.60" cy="217.82" r="1.05" fill="#fff" stroke="#333" stroke-width="0.4"/>
<circle cx="536.23" cy="216.86" r="1.05" fill="#fff" stroke="#333" stroke-width="0.4"/>
<circle cx="550.85" cy="215.78" r="1.05" fill="#fff" stroke="#333" stroke-width="0.4"/>
<circle cx="565.48" cy="214.38" r="1.05" fill="#fff" stroke="#333" stroke-width="0.4"/>
<circle cx="580.10" cy="212.28" r="1.05" fill="#fff" stroke="#333" stroke-width="0.4"/>
<circle cx="697.10" cy="45.71" r="1.05" fill="#fff" stroke="#333" stroke-width="0.4"/>
<circle cx="711.73" cy="43.79" r="1.05" fill="#fff" stroke="#333" stroke-width="0.4"/>
<circle cx="726.35" cy="42.18" r="1.05" fill="#fff" stroke="#333" stroke-width="0.4"/>
<circle cx="740.98" cy="40.94" r="1.05" fill="#fff" stroke="#333" stroke-width="0.4"/>
<circle cx="755.60" cy="40.03" r="1.05" fill="#fff" stroke="#333" stroke-width="0.4"/>
<circle cx="770.23" cy="39.26" r="1.05" fill="#fff" stroke="#333" stroke-width="0.4"/>
<circle cx="784.85" cy="38.51" r="1.05" fill="#fff" stroke="#333" stroke-width="0.4"/>
<polyline points="785.0,36.2 779.9,36.4 772.7,36.6 764.2,36.9 755.4,37.1 747.0,37.4 740.0,37.6 734.2,37.8 728.9,37.9 724.1,38.0 719.7,38.1 715.7,38.2 712.0,38.4 708.8,38.6 706.3,38.8 704.1,39.1 702.1,39.3 700.1,39.6 698.0,39.8 695.8,40.0 693.6,40.2 691.5,40.4 689.4,40.6 687.2,40.8 685.0,41.1 682.7,41.4 680.3,41.7 677.9,42.0 675.5,42.4 673.2,42.8 671.0,43.2 668.9,43.7 666.9,44.3 664.9,45.0 663.0,45.6 661.4,46.3 660.0,46.8 658.9,47.2 658.2,47.6 657.7,47.9 657.2,48.2 656.7,48.6 656.0,49.0 655.2,49.5 654.2,50.1 653.3,50.7 652.3,51.3 651.3,51.9 650.4,52.5 649.5,53.1 648.6,53.6 647.6,54.1 646.7,54.7 645.8,55.2 644.9,55.9 644.0,56.6 643.0,57.4 642.1,58.2 641.1,59.1 640.2,59.9 639.4,60.8 638.6,61.7 637.9,62.6 637.2,63.6 636.5,64.5 635.9,65.4 635.2,66.3 634.5,67.1 633.8,67.9 633.0,68.7 632.4,69.4 631.7,70.2 631.1,71.1 630.6,72.0 630.1,72.8 629.7,73.7 629.3,74.7 628.9,75.7 628.5,77.0 628.2,78.5 627.9,80.1 627.6,81.8 627.3,83.7 627.0,85.6 626.7,87.5 626.4,89.5 626.0,91.5 625.6,93.6 625.2,95.8 624.9,97.9 624.6,100.0 624.4,102.1 624.2,104.2 624.0,106.2 623.8,108.3 623.7,110.4 623.5,112.5 623.3,114.6 623.2,116.6 623.0,118.6 622.8,120.6 622.7,122.8 622.5,125.0 622.3,127.4 622.2,129.8 622.0,132.3 621.9,134.9 621.7,137.5 621.6,140.0 621.5,142.5 621.3,145.0 621.2,147.5 621.0,150.0 620.9,152.5 620.7,155.0 620.6,157.4 620.4,159.8 620.3,162.2 620.1,164.6 620.0,167.2 619.8,170.0 619.6,173.2 619.5,176.7 619.4,180.3 619.2,183.9 619.0,187.2 618.8,190.0 618.6,192.3 618.3,194.3 618.1,195.9 617.8,197.4 617.4,198.7 617.0,200.0 616.5,201.1 615.9,202.1 615.3,202.9 614.6,203.7 613.8,204.3 613.0,205.0 612.1,205.6 611.2,206.2 610.2,206.7 609.2,207.2 608.1,207.6 607.0,208.0 605.9,208.4 604.8,208.7 603.6,209.0 602.4,209.3 601.1,209.5 599.7,209.8 598.5,210.0 597.4,210.2 596.3,210.4 594.8,210.5 592.8,210.7 590.0,211.0 586.2,211.3 581.5,211.7 576.3,212.1 570.8,212.5 565.2,213.0 560.0,213.5 555.1,214.0 550.3,214.6 545.5,215.2 540.6,215.9 535.5,216.5 530.0,217.2 523.7,217.9 516.5,218.7 509.1,219.6 502.1,220.4 496.2,221.0 492.0,221.5" fill="none" stroke="#f00" stroke-width="1.1" stroke-linejoin="round" />
<circle cx="680.21" cy="41.70" r="1.1" fill="#fff" stroke="#f22" stroke-width="0.5"/>
<circle cx="677.24" cy="42.10" r="1.1" fill="#fff" stroke="#f22" stroke-width="0.5"/>
<circle cx="674.27" cy="42.57" r="1.1" fill="#fff" stroke="#f22" stroke-width="0.5"/>
<circle cx="671.33" cy="43.13" r="1.1" fill="#fff" stroke="#f22" stroke-width="0.5"/>
<circle cx="668.42" cy="43.87" r="1.1" fill="#fff" stroke="#f22" stroke-width="0.5"/>
<circle cx="665.56" cy="44.77" r="1.1" fill="#fff" stroke="#f22" stroke-width="0.5"/>
<circle cx="662.73" cy="45.76" r="1.1" fill="#fff" stroke="#f22" stroke-width="0.5"/>
<circle cx="659.93" cy="46.83" r="1.1" fill="#fff" stroke="#f22" stroke-width="0.5"/>
<circle cx="657.26" cy="48.18" r="1.1" fill="#fff" stroke="#f22" stroke-width="0.5"/>
<circle cx="654.72" cy="49.78" r="1.1" fill="#fff" stroke="#f22" stroke-width="0.5"/>
<circle cx="652.18" cy="51.38" r="1.1" fill="#fff" stroke="#f22" stroke-width="0.5"/>
<circle cx="649.63" cy="52.96" r="1.1" fill="#fff" stroke="#f22" stroke-width="0.5"/>
<circle cx="647.04" cy="54.47" r="1.1" fill="#fff" stroke="#f22" stroke-width="0.5"/>
<circle cx="644.56" cy="56.16" r="1.1" fill="#fff" stroke="#f22" stroke-width="0.5"/>
<circle cx="642.25" cy="58.07" r="1.1" fill="#fff" stroke="#f22" stroke-width="0.5"/>
<circle cx="640.06" cy="60.12" r="1.1" fill="#fff" stroke="#f22" stroke-width="0.5"/>
<circle cx="638.09" cy="62.38" r="1.1" fill="#fff" stroke="#f22" stroke-width="0.5"/>
<circle cx="636.32" cy="64.80" r="1.1" fill="#fff" stroke="#f22" stroke-width="0.5"/>
<circle cx="634.47" cy="67.16" r="1.1" fill="#fff" stroke="#f22" stroke-width="0.5"/>
<circle cx="632.43" cy="69.36" r="1.1" fill="#fff" stroke="#f22" stroke-width="0.5"/>
<circle cx="630.68" cy="71.79" r="1.1" fill="#fff" stroke="#f22" stroke-width="0.5"/>
<circle cx="629.33" cy="74.47" r="1.1" fill="#fff" stroke="#f22" stroke-width="0.5"/>
<circle cx="628.42" cy="77.32" r="1.1" fill="#fff" stroke="#f22" stroke-width="0.5"/>
<circle cx="627.82" cy="80.26" r="1.1" fill="#fff" stroke="#f22" stroke-width="0.5"/>
<circle cx="627.36" cy="83.22" r="1.1" fill="#fff" stroke="#f22" stroke-width="0.5"/>
<circle cx="626.91" cy="86.19" r="1.1" fill="#fff" stroke="#f22" stroke-width="0.5"/>
<circle cx="626.41" cy="89.15" r="1.1" fill="#fff" stroke="#f22" stroke-width="0.5"/>
<circle cx="625.88" cy="92.10" r="1.1" fill="#fff" stroke="#f22" stroke-width="0.5"/>
<circle cx="625.36" cy="95.06" r="1.1" fill="#fff" stroke="#f22" stroke-width="0.5"/>
<circle cx="624.88" cy="98.02" r="1.1" fill="#fff" stroke="#f22" stroke-width="0.5"/>
<circle cx="624.48" cy="100.99" r="1.1" fill="#fff" stroke="#f22" stroke-width="0.5"/>
<circle cx="624.17" cy="103.97" r="1.1" fill="#fff" stroke="#f22" stroke-width="0.5"/>
<circle cx="623.93" cy="106.96" r="1.1" fill="#fff" stroke="#f22" stroke-width="0.5"/>
<circle cx="623.70" cy="109.96" r="1.1" fill="#fff" stroke="#f22" stroke-width="0.5"/>
<circle cx="623.46" cy="112.95" r="1.1" fill="#fff" stroke="#f22" stroke-width="0.5"/>
<circle cx="623.21" cy="115.94" r="1.1" fill="#fff" stroke="#f22" stroke-width="0.5"/>
<circle cx="622.96" cy="118.93" r="1.1" fill="#fff" stroke="#f22" stroke-width="0.5"/>
<circle cx="622.73" cy="121.92" r="1.1" fill="#fff" stroke="#f22" stroke-width="0.5"/>
<circle cx="622.51" cy="124.91" r="1.1" fill="#fff" stroke="#f22" stroke-width="0.5"/>
<circle cx="622.31" cy="127.90" r="1.1" fill="#fff" stroke="#f22" stroke-width="0.5"/>
<circle cx="622.13" cy="130.90" r="1.1" fill="#fff" stroke="#f22" stroke-width="0.5"/>
<circle cx="621.95" cy="133.89" r="1.1" fill="#fff" stroke="#f22" stroke-width="0.5"/>
<circle cx="621.78" cy="136.89" r="1.1" fill="#fff" stroke="#f22" stroke-width="0.5"/>
<circle cx="621.61" cy="139.88" r="1.1" fill="#fff" stroke="#f22" stroke-width="0.5"/>
<circle cx="621.43" cy="142.88" r="1.1" fill="#fff" stroke="#f22" stroke-width="0.5"/>
<circle cx="621.25" cy="145.87" r="1.1" fill="#fff" stroke="#f22" stroke-width="0.5"/>
<circle cx="621.07" cy="148.86" r="1.1" fill="#fff" stroke="#f22" stroke-width="0.5"/>
<circle cx="620.89" cy="151.86" r="1.1" fill="#fff" stroke="#f22" stroke-width="0.5"/>
<circle cx="620.71" cy="154.85" r="1.1" fill="#fff" stroke="#f22" stroke-width="0.5"/>
<circle cx="620.53" cy="157.85" r="1.1" fill="#fff" stroke="#f22" stroke-width="0.5"/>
<circle cx="620.34" cy="160.84" r="1.1" fill="#fff" stroke="#f22" stroke-width="0.5"/>
<circle cx="620.16" cy="163.84" r="1.1" fill="#fff" stroke="#f22" stroke-width="0.5"/>
<circle cx="619.98" cy="166.83" r="1.1" fill="#fff" stroke="#f22" stroke-width="0.5"/>
<circle cx="619.81" cy="169.83" r="1.1" fill="#fff" stroke="#f22" stroke-width="0.5"/>
<circle cx="619.66" cy="172.82" r="1.1" fill="#fff" stroke="#f22" stroke-width="0.5"/>
<circle cx="619.54" cy="175.82" r="1.1" fill="#fff" stroke="#f22" stroke-width="0.5"/>
<circle cx="619.42" cy="178.82" r="1.1" fill="#fff" stroke="#f22" stroke-width="0.5"/>
<circle cx="619.29" cy="181.82" r="1.1" fill="#fff" stroke="#f22" stroke-width="0.5"/>
<circle cx="619.15" cy="184.81" r="1.1" fill="#fff" stroke="#f22" stroke-width="0.5"/>
<circle cx="618.97" cy="187.81" r="1.1" fill="#fff" stroke="#f22" stroke-width="0.5"/>
<circle cx="618.72" cy="190.80" r="1.1" fill="#fff" stroke="#f22" stroke-width="0.5"/>
<circle cx="618.40" cy="193.78" r="1.1" fill="#fff" stroke="#f22" stroke-width="0.5"/>
<circle cx="617.93" cy="196.74" r="1.1" fill="#fff" stroke="#f22" stroke-width="0.5"/>
<circle cx="617.13" cy="199.63" r="1.1" fill="#fff" stroke="#f22" stroke-width="0.5"/>
<circle cx="615.77" cy="202.29" r="1.1" fill="#fff" stroke="#f22" stroke-width="0.5"/>
<circle cx="613.69" cy="204.44" r="1.1" fill="#fff" stroke="#f22" stroke-width="0.5"/>
<circle cx="611.24" cy="206.17" r="1.1" fill="#fff" stroke="#f22" stroke-width="0.5"/>
<circle cx="608.52" cy="207.42" r="1.1" fill="#fff" stroke="#f22" stroke-width="0.5"/>
<circle cx="605.70" cy="208.43" r="1.1" fill="#fff" stroke="#f22" stroke-width="0.5"/>
<circle cx="602.79" cy="209.19" r="1.1" fill="#fff" stroke="#f22" stroke-width="0.5"/>
<circle cx="599.85" cy="209.77" r="1.1" fill="#fff" stroke="#f22" stroke-width="0.5"/>
<circle cx="596.89" cy="210.27" r="1.1" fill="#fff" stroke="#f22" stroke-width="0.5"/>
<circle cx="492.35" cy="221.46" r="1.1" fill="#fff" stroke="#f22" stroke-width="0.5"/>
<circle cx="506.98" cy="219.82" r="1.1" fill="#fff" stroke="#f22" stroke-width="0.5"/>
<circle cx="521.60" cy="218.17" r="1.1" fill="#fff" stroke="#f22" stroke-width="0.5"/>
<circle cx="536.23" cy="216.44" r="1.1" fill="#fff" stroke="#f22" stroke-width="0.5"/>
<circle cx="550.85" cy="214.56" r="1.1" fill="#fff" stroke="#f22" stroke-width="0.5"/>
<circle cx="565.48" cy="212.98" r="1.1" fill="#fff" stroke="#f22" stroke-width="0.5"/>
<circle cx="580.10" cy="211.80" r="1.1" fill="#fff" stroke="#f22" stroke-width="0.5"/>
<circle cx="697.10" cy="39.89" r="1.1" fill="#fff" stroke="#f22" stroke-width="0.5"/>
<circle cx="711.73" cy="38.42" r="1.1" fill="#fff" stroke="#f22" stroke-width="0.5"/>
<circle cx="726.35" cy="37.95" r="1.1" fill="#fff" stroke="#f22" stroke-width="0.5"/>
<circle cx="740.98" cy="37.57" r="1.1" fill="#fff" stroke="#f22" stroke-width="0.5"/>
<circle cx="755.60" cy="37.12" r="1.1" fill="#fff" stroke="#f22" stroke-width="0.5"/>
<circle cx="770.23" cy="36.66" r="1.1" fill="#fff" stroke="#f22" stroke-width="0.5"/>
<circle cx="784.85" cy="36.20" r="1.1" fill="#fff" stroke="#f22" stroke-width="0.5"/>
<polyline points="492.0,222.4 496.2,222.1 502.1,221.6 509.1,221.1 516.5,220.5 523.7,220.0 530.0,219.4 535.5,218.9 540.6,218.3 545.5,217.7 550.3,217.2 555.1,216.6 560.0,216.0 565.1,215.4 570.4,214.8 575.6,214.2 580.7,213.6 585.6,213.0 590.0,212.5 594.0,212.0 597.8,211.6 601.2,211.2 604.4,210.8 607.4,210.5 610.0,210.2 612.3,210.0 614.2,209.9 615.8,209.8 617.3,209.7 618.6,209.5 620.0,209.2 621.3,208.7 622.5,208.0 623.6,207.2 624.7,206.4 625.8,205.6 626.9,204.8 628.1,204.1 629.3,203.4 630.5,202.7 631.7,202.0 632.8,201.3 633.9,200.5 634.9,199.7 635.7,198.9 636.6,198.0 637.4,197.1 638.2,196.2 639.0,195.3 639.9,194.3 640.8,193.4 641.6,192.4 642.5,191.3 643.4,190.3 644.2,189.2 645.0,188.1 645.8,187.0 646.6,185.9 647.3,184.8 648.0,183.6 648.6,182.3 649.1,181.0 649.6,179.6 650.1,178.1 650.5,176.6 650.8,175.2 651.2,173.7 651.5,172.3 651.8,171.0 652.1,169.7 652.3,168.4 652.6,166.8 652.9,165.0 653.2,162.9 653.6,160.7 653.9,158.2 654.2,155.6 654.6,152.9 655.0,150.0 655.4,147.0 655.9,143.7 656.3,140.3 656.8,136.9 657.2,133.4 657.6,130.0 657.9,126.7 658.2,123.3 658.5,120.0 658.8,116.7 659.1,113.3 659.3,110.0 659.5,106.7 659.8,103.3 660.0,100.0 660.2,96.7 660.4,93.3 660.6,90.0 660.8,86.6 660.9,83.0 661.0,79.5 661.2,76.1 661.3,72.9 661.4,70.0 661.5,67.5 661.6,65.2 661.7,63.2 661.8,61.3 662.0,59.6 662.2,58.0 662.5,56.6 662.8,55.3 663.2,54.2 663.6,53.2 664.1,52.3 664.8,51.5 665.5,50.8 666.3,50.1 667.1,49.6 668.1,49.1 669.3,48.6 670.8,48.1 672.6,47.5 674.8,46.9 677.2,46.3 679.7,45.7 682.2,45.1 684.6,44.6 686.9,44.2 689.2,43.8 691.5,43.4 693.8,43.1 696.1,42.8 698.4,42.5 700.7,42.2 702.9,42.0 705.1,41.8 707.4,41.6 709.8,41.4 712.3,41.1 714.9,40.7 717.5,40.3 720.1,39.8 723.0,39.4 726.3,38.9 730.0,38.6 734.3,38.3 739.3,38.1 744.5,37.9 749.9,37.8 755.1,37.6 760.0,37.5 764.7,37.4 769.6,37.3 774.4,37.2 778.7,37.1 782.3,37.0 785.0,37.0" fill="none" stroke="#f00" stroke-width="1.1" stroke-linejoin="round" />
<circle cx="596.44" cy="211.75" r="1.1" fill="#fff" stroke="#f22" stroke-width="0.5"/>
<circle cx="599.42" cy="211.41" r="1.1" fill="#fff" stroke="#f22" stroke-width="0.5"/>
<circle cx="602.40" cy="211.06" r="1.1" fill="#fff" stroke="#f22" stroke-width="0.5"/>
<circle cx="605.38" cy="210.72" r="1.1" fill="#fff" stroke="#f22" stroke-width="0.5"/>
<circle cx="608.36" cy="210.38" r="1.1" fill="#fff" stroke="#f22" stroke-width="0.5"/>
<circle cx="611.35" cy="210.08" r="1.1" fill="#fff" stroke="#f22" stroke-width="0.5"/>
<circle cx="614.34" cy="209.89" r="1.1" fill="#fff" stroke="#f22" stroke-width="0.5"/>
<circle cx="617.34" cy="209.73" r="1.1" fill="#fff" stroke="#f22" stroke-width="0.5"/>
<circle cx="620.26" cy="209.09" r="1.1" fill="#fff" stroke="#f22" stroke-width="0.5"/>
<circle cx="622.91" cy="207.71" r="1.1" fill="#fff" stroke="#f22" stroke-width="0.5"/>
<circle cx="625.32" cy="205.92" r="1.1" fill="#fff" stroke="#f22" stroke-width="0.5"/>
<circle cx="627.81" cy="204.25" r="1.1" fill="#fff" stroke="#f22" stroke-width="0.5"/>
<circle cx="630.41" cy="202.76" r="1.1" fill="#fff" stroke="#f22" stroke-width="0.5"/>
<circle cx="632.96" cy="201.18" r="1.1" fill="#fff" stroke="#f22" stroke-width="0.5"/>
<circle cx="635.29" cy="199.29" r="1.1" fill="#fff" stroke="#f22" stroke-width="0.5"/>
<circle cx="637.36" cy="197.13" r="1.1" fill="#fff" stroke="#f22" stroke-width="0.5"/>
<circle cx="639.37" cy="194.90" r="1.1" fill="#fff" stroke="#f22" stroke-width="0.5"/>
<circle cx="641.37" cy="192.67" r="1.1" fill="#fff" stroke="#f22" stroke-width="0.5"/>
<circle cx="643.30" cy="190.37" r="1.1" fill="#fff" stroke="#f22" stroke-width="0.5"/>
<circle cx="645.10" cy="187.97" r="1.1" fill="#fff" stroke="#f22" stroke-width="0.5"/>
<circle cx="646.82" cy="185.51" r="1.1" fill="#fff" stroke="#f22" stroke-width="0.5"/>
<circle cx="648.30" cy="182.91" r="1.1" fill="#fff" stroke="#f22" stroke-width="0.5"/>
<circle cx="649.44" cy="180.13" r="1.1" fill="#fff" stroke="#f22" stroke-width="0.5"/>
<circle cx="650.30" cy="177.26" r="1.1" fill="#fff" stroke="#f22" stroke-width="0.5"/>
<circle cx="651.04" cy="174.35" r="1.1" fill="#fff" stroke="#f22" stroke-width="0.5"/>
<circle cx="651.73" cy="171.43" r="1.1" fill="#fff" stroke="#f22" stroke-width="0.5"/>
<circle cx="652.31" cy="168.49" r="1.1" fill="#fff" stroke="#f22" stroke-width="0.5"/>
<circle cx="652.81" cy="165.53" r="1.1" fill="#fff" stroke="#f22" stroke-width="0.5"/>
<circle cx="653.27" cy="162.57" r="1.1" fill="#fff" stroke="#f22" stroke-width="0.5"/>
<circle cx="653.70" cy="159.60" r="1.1" fill="#fff" stroke="#f22" stroke-width="0.5"/>
<circle cx="654.11" cy="156.63" r="1.1" fill="#fff" stroke="#f22" stroke-width="0.5"/>
<circle cx="654.51" cy="153.65" r="1.1" fill="#fff" stroke="#f22" stroke-width="0.5"/>
<circle cx="654.91" cy="150.68" r="1.1" fill="#fff" stroke="#f22" stroke-width="0.5"/>
<circle cx="655.31" cy="147.71" r="1.1" fill="#fff" stroke="#f22" stroke-width="0.5"/>
<circle cx="655.72" cy="144.73" r="1.1" fill="#fff" stroke="#f22" stroke-width="0.5"/>
<circle cx="656.13" cy="141.76" r="1.1" fill="#fff" stroke="#f22" stroke-width="0.5"/>
<circle cx="656.53" cy="138.79" r="1.1" fill="#fff" stroke="#f22" stroke-width="0.5"/>
<circle cx="656.91" cy="135.81" r="1.1" fill="#fff" stroke="#f22" stroke-width="0.5"/>
<circle cx="657.28" cy="132.84" r="1.1" fill="#fff" stroke="#f22" stroke-width="0.5"/>
<circle cx="657.61" cy="129.86" r="1.1" fill="#fff" stroke="#f22" stroke-width="0.5"/>
<circle cx="657.92" cy="126.87" r="1.1" fill="#fff" stroke="#f22" stroke-width="0.5"/>
<circle cx="658.20" cy="123.88" r="1.1" fill="#fff" stroke="#f22" stroke-width="0.5"/>
<circle cx="658.46" cy="120.89" r="1.1" fill="#fff" stroke="#f22" stroke-width="0.5"/>
<circle cx="658.70" cy="117.90" r="1.1" fill="#fff" stroke="#f22" stroke-width="0.5"/>
<circle cx="658.93" cy="114.91" r="1.1" fill="#fff" stroke="#f22" stroke-width="0.5"/>
<circle cx="659.16" cy="111.92" r="1.1" fill="#fff" stroke="#f22" stroke-width="0.5"/>
<circle cx="659.38" cy="108.93" r="1.1" fill="#fff" stroke="#f22" stroke-width="0.5"/>
<circle cx="659.60" cy="105.94" r="1.1" fill="#fff" stroke="#f22" stroke-width="0.5"/>
<circle cx="659.81" cy="102.95" r="1.1" fill="#fff" stroke="#f22" stroke-width="0.5"/>
<circle cx="660.01" cy="99.95" r="1.1" fill="#fff" stroke="#f22" stroke-width="0.5"/>
<circle cx="660.20" cy="96.96" r="1.1" fill="#fff" stroke="#f22" stroke-width="0.5"/>
<circle cx="660.38" cy="93.96" r="1.1" fill="#fff" stroke="#f22" stroke-width="0.5"/>
<circle cx="660.55" cy="90.97" r="1.1" fill="#fff" stroke="#f22" stroke-width="0.5"/>
<circle cx="660.70" cy="87.97" r="1.1" fill="#fff" stroke="#f22" stroke-width="0.5"/>
<circle cx="660.83" cy="84.98" r="1.1" fill="#fff" stroke="#f22" stroke-width="0.5"/>
<circle cx="660.94" cy="81.98" r="1.1" fill="#fff" stroke="#f22" stroke-width="0.5"/>
<circle cx="661.05" cy="78.98" r="1.1" fill="#fff" stroke="#f22" stroke-width="0.5"/>
<circle cx="661.16" cy="75.98" r="1.1" fill="#fff" stroke="#f22" stroke-width="0.5"/>
<circle cx="661.27" cy="72.98" r="1.1" fill="#fff" stroke="#f22" stroke-width="0.5"/>
<circle cx="661.40" cy="69.99" r="1.1" fill="#fff" stroke="#f22" stroke-width="0.5"/>
<circle cx="661.53" cy="66.99" r="1.1" fill="#fff" stroke="#f22" stroke-width="0.5"/>
<circle cx="661.65" cy="63.99" r="1.1" fill="#fff" stroke="#f22" stroke-width="0.5"/>
<circle cx="661.83" cy="61.00" r="1.1" fill="#fff" stroke="#f22" stroke-width="0.5"/>
<circle cx="662.20" cy="58.02" r="1.1" fill="#fff" stroke="#f22" stroke-width="0.5"/>
<circle cx="662.88" cy="55.10" r="1.1" fill="#fff" stroke="#f22" stroke-width="0.5"/>
<circle cx="664.12" cy="52.38" r="1.1" fill="#fff" stroke="#f22" stroke-width="0.5"/>
<circle cx="666.17" cy="50.21" r="1.1" fill="#fff" stroke="#f22" stroke-width="0.5"/>
<circle cx="668.83" cy="48.83" r="1.1" fill="#fff" stroke="#f22" stroke-width="0.5"/>
<circle cx="671.65" cy="47.83" r="1.1" fill="#fff" stroke="#f22" stroke-width="0.5"/>
<circle cx="674.53" cy="46.97" r="1.1" fill="#fff" stroke="#f22" stroke-width="0.5"/>
<circle cx="677.43" cy="46.22" r="1.1" fill="#fff" stroke="#f22" stroke-width="0.5"/>
<circle cx="680.35" cy="45.52" r="1.1" fill="#fff" stroke="#f22" stroke-width="0.5"/>
<circle cx="492.35" cy="222.37" r="1.1" fill="#fff" stroke="#f22" stroke-width="0.5"/>
<circle cx="506.98" cy="221.27" r="1.1" fill="#fff" stroke="#f22" stroke-width="0.5"/>
<circle cx="521.60" cy="220.13" r="1.1" fill="#fff" stroke="#f22" stroke-width="0.5"/>
<circle cx="536.23" cy="218.77" r="1.1" fill="#fff" stroke="#f22" stroke-width="0.5"/>
<circle cx="550.85" cy="217.09" r="1.1" fill="#fff" stroke="#f22" stroke-width="0.5"/>
<circle cx="565.48" cy="215.37" r="1.1" fill="#fff" stroke="#f22" stroke-width="0.5"/>
<circle cx="580.10" cy="213.66" r="1.1" fill="#fff" stroke="#f22" stroke-width="0.5"/>
<circle cx="697.10" cy="42.67" r="1.1" fill="#fff" stroke="#f22" stroke-width="0.5"/>
<circle cx="711.73" cy="41.17" r="1.1" fill="#fff" stroke="#f22" stroke-width="0.5"/>
<circle cx="726.35" cy="38.94" r="1.1" fill="#fff" stroke="#f22" stroke-width="0.5"/>
<circle cx="740.98" cy="38.05" r="1.1" fill="#fff" stroke="#f22" stroke-width="0.5"/>
<circle cx="755.60" cy="37.62" r="1.1" fill="#fff" stroke="#f22" stroke-width="0.5"/>
<circle cx="770.23" cy="37.26" r="1.1" fill="#fff" stroke="#f22" stroke-width="0.5"/>
<circle cx="784.85" cy="37.00" r="1.1" fill="#fff" stroke="#f22" stroke-width="0.5"/>
<polyline points="785.0,38.0 782.3,38.1 778.7,38.3 774.4,38.4 769.6,38.6 764.7,38.8 760.0,39.0 755.3,39.1 750.4,39.2 745.4,39.3 740.3,39.4 735.2,39.6 730.0,39.8 724.6,40.1 719.0,40.6 713.4,41.0 707.9,41.5 702.7,42.0 698.0,42.5 693.9,42.9 690.2,43.4 686.8,43.8 683.7,44.2 680.8,44.7 678.0,45.3 675.3,46.0 672.9,46.8 670.6,47.7 668.5,48.5 666.6,49.3 665.0,50.0 663.7,50.6 662.7,51.0 661.9,51.5 661.3,51.8 660.7,52.2 660.0,52.5 659.3,52.8 658.7,53.0 658.0,53.1 657.4,53.3 656.7,53.5 656.0,53.8 655.2,54.2 654.2,54.6 653.3,55.0 652.3,55.5 651.3,56.0 650.4,56.6 649.5,57.2 648.6,57.8 647.6,58.5 646.7,59.3 645.8,60.0 644.9,60.8 644.0,61.6 643.1,62.5 642.2,63.4 641.2,64.4 640.3,65.3 639.4,66.3 638.4,67.3 637.5,68.3 636.5,69.4 635.5,70.5 634.6,71.5 633.8,72.5 633.1,73.4 632.5,74.1 632.0,74.8 631.5,75.6 631.0,76.6 630.5,78.0 630.0,79.8 629.5,81.9 629.0,84.3 628.6,86.8 628.1,89.3 627.7,91.7 627.3,94.1 626.9,96.5 626.6,99.0 626.2,101.4 625.9,103.9 625.6,106.3 625.3,108.7 625.1,111.2 624.8,113.6 624.6,116.0 624.4,118.4 624.2,120.8 624.0,123.2 623.8,125.5 623.7,127.9 623.5,130.2 623.4,132.6 623.2,135.0 623.0,137.4 622.9,139.8 622.8,142.1 622.6,144.6 622.5,147.2 622.3,150.0 622.1,153.1 621.9,156.4 621.7,159.8 621.5,163.3 621.3,166.7 621.0,170.0 620.7,173.2 620.4,176.4 620.1,179.6 619.7,182.6 619.3,185.4 618.8,188.0 618.3,190.3 617.7,192.4 617.0,194.3 616.3,196.0 615.5,197.6 614.5,199.0 613.3,200.3 612.0,201.3 610.6,202.2 609.1,203.1 607.6,203.8 606.0,204.5 604.5,205.1 603.0,205.7 601.5,206.2 599.8,206.6 598.0,207.0 596.0,207.5 593.7,208.0 591.3,208.5 588.6,209.0 585.9,209.6 583.0,210.0 580.0,210.5 577.0,210.9 574.0,211.3 570.9,211.7 567.6,212.0 564.0,212.4 560.0,212.8 555.7,213.2 551.0,213.6 546.1,214.0 541.0,214.4 535.6,214.9 530.0,215.3 523.7,215.8 516.5,216.4 509.1,217.0 502.1,217.5 496.2,218.0 492.0,218.3" fill="none" stroke="#c8c8c8" stroke-width="2.3" stroke-linejoin="round" />
<circle cx="681.29" cy="44.64" r="1.0" fill="#ececec" stroke="#b0b0b0" stroke-width="0.5"/>
<circle cx="677.38" cy="45.46" r="1.0" fill="#ececec" stroke="#b0b0b0" stroke-width="0.5"/>
<circle cx="673.54" cy="46.58" r="1.0" fill="#ececec" stroke="#b0b0b0" stroke-width="0.5"/>
<circle cx="669.79" cy="47.99" r="1.0" fill="#ececec" stroke="#b0b0b0" stroke-width="0.5"/>
<circle cx="666.11" cy="49.54" r="1.0" fill="#ececec" stroke="#b0b0b0" stroke-width="0.5"/>
<circle cx="662.46" cy="51.18" r="1.0" fill="#ececec" stroke="#b0b0b0" stroke-width="0.5"/>
<circle cx="658.86" cy="52.90" r="1.0" fill="#ececec" stroke="#b0b0b0" stroke-width="0.5"/>
<circle cx="655.09" cy="54.20" r="1.0" fill="#ececec" stroke="#b0b0b0" stroke-width="0.5"/>
<circle cx="651.50" cy="55.95" r="1.0" fill="#ececec" stroke="#b0b0b0" stroke-width="0.5"/>
<circle cx="648.16" cy="58.15" r="1.0" fill="#ececec" stroke="#b0b0b0" stroke-width="0.5"/>
<circle cx="645.05" cy="60.67" r="1.0" fill="#ececec" stroke="#b0b0b0" stroke-width="0.5"/>
<circle cx="642.15" cy="63.43" r="1.0" fill="#ececec" stroke="#b0b0b0" stroke-width="0.5"/>
<circle cx="639.39" cy="66.31" r="1.0" fill="#ececec" stroke="#b0b0b0" stroke-width="0.5"/>
<circle cx="636.63" cy="69.22" r="1.0" fill="#ececec" stroke="#b0b0b0" stroke-width="0.5"/>
<circle cx="634.01" cy="72.24" r="1.0" fill="#ececec" stroke="#b0b0b0" stroke-width="0.5"/>
<circle cx="631.59" cy="75.41" r="1.0" fill="#ececec" stroke="#b0b0b0" stroke-width="0.5"/>
<circle cx="630.18" cy="79.14" r="1.0" fill="#ececec" stroke="#b0b0b0" stroke-width="0.5"/>
<circle cx="629.28" cy="83.04" r="1.0" fill="#ececec" stroke="#b0b0b0" stroke-width="0.5"/>
<circle cx="628.53" cy="86.97" r="1.0" fill="#ececec" stroke="#b0b0b0" stroke-width="0.5"/>
<circle cx="627.84" cy="90.91" r="1.0" fill="#ececec" stroke="#b0b0b0" stroke-width="0.5"/>
<circle cx="627.18" cy="94.85" r="1.0" fill="#ececec" stroke="#b0b0b0" stroke-width="0.5"/>
<circle cx="626.58" cy="98.81" r="1.0" fill="#ececec" stroke="#b0b0b0" stroke-width="0.5"/>
<circle cx="626.04" cy="102.77" r="1.0" fill="#ececec" stroke="#b0b0b0" stroke-width="0.5"/>
<circle cx="625.55" cy="106.74" r="1.0" fill="#ececec" stroke="#b0b0b0" stroke-width="0.5"/>
<circle cx="625.11" cy="110.72" r="1.0" fill="#ececec" stroke="#b0b0b0" stroke-width="0.5"/>
<circle cx="624.73" cy="114.70" r="1.0" fill="#ececec" stroke="#b0b0b0" stroke-width="0.5"/>
<circle cx="624.38" cy="118.68" r="1.0" fill="#ececec" stroke="#b0b0b0" stroke-width="0.5"/>
<circle cx="624.05" cy="122.67" r="1.0" fill="#ececec" stroke="#b0b0b0" stroke-width="0.5"/>
<circle cx="623.75" cy="126.66" r="1.0" fill="#ececec" stroke="#b0b0b0" stroke-width="0.5"/>
<circle cx="623.48" cy="130.65" r="1.0" fill="#ececec" stroke="#b0b0b0" stroke-width="0.5"/>
<circle cx="623.22" cy="134.64" r="1.0" fill="#ececec" stroke="#b0b0b0" stroke-width="0.5"/>
<circle cx="622.97" cy="138.63" r="1.0" fill="#ececec" stroke="#b0b0b0" stroke-width="0.5"/>
<circle cx="622.74" cy="142.63" r="1.0" fill="#ececec" stroke="#b0b0b0" stroke-width="0.5"/>
<circle cx="622.51" cy="146.62" r="1.0" fill="#ececec" stroke="#b0b0b0" stroke-width="0.5"/>
<circle cx="622.26" cy="150.61" r="1.0" fill="#ececec" stroke="#b0b0b0" stroke-width="0.5"/>
<circle cx="622.03" cy="154.60" r="1.0" fill="#ececec" stroke="#b0b0b0" stroke-width="0.5"/>
<circle cx="621.80" cy="158.60" r="1.0" fill="#ececec" stroke="#b0b0b0" stroke-width="0.5"/>
<circle cx="621.56" cy="162.59" r="1.0" fill="#ececec" stroke="#b0b0b0" stroke-width="0.5"/>
<circle cx="621.28" cy="166.58" r="1.0" fill="#ececec" stroke="#b0b0b0" stroke-width="0.5"/>
<circle cx="620.95" cy="170.57" r="1.0" fill="#ececec" stroke="#b0b0b0" stroke-width="0.5"/>
<circle cx="620.58" cy="174.55" r="1.0" fill="#ececec" stroke="#b0b0b0" stroke-width="0.5"/>
<circle cx="620.19" cy="178.53" r="1.0" fill="#ececec" stroke="#b0b0b0" stroke-width="0.5"/>
<circle cx="619.73" cy="182.50" r="1.0" fill="#ececec" stroke="#b0b0b0" stroke-width="0.5"/>
<circle cx="619.10" cy="186.45" r="1.0" fill="#ececec" stroke="#b0b0b0" stroke-width="0.5"/>
<circle cx="618.24" cy="190.36" r="1.0" fill="#ececec" stroke="#b0b0b0" stroke-width="0.5"/>
<circle cx="617.08" cy="194.18" r="1.0" fill="#ececec" stroke="#b0b0b0" stroke-width="0.5"/>
<circle cx="615.34" cy="197.78" r="1.0" fill="#ececec" stroke="#b0b0b0" stroke-width="0.5"/>
<circle cx="612.72" cy="200.77" r="1.0" fill="#ececec" stroke="#b0b0b0" stroke-width="0.5"/>
<circle cx="609.36" cy="202.92" r="1.0" fill="#ececec" stroke="#b0b0b0" stroke-width="0.5"/>
<circle cx="605.73" cy="204.61" r="1.0" fill="#ececec" stroke="#b0b0b0" stroke-width="0.5"/>
<circle cx="601.98" cy="206.00" r="1.0" fill="#ececec" stroke="#b0b0b0" stroke-width="0.5"/>
<circle cx="598.12" cy="207.01" r="1.0" fill="#ececec" stroke="#b0b0b0" stroke-width="0.5"/>
<circle cx="594.22" cy="207.90" r="1.0" fill="#ececec" stroke="#b0b0b0" stroke-width="0.5"/>
<circle cx="492.35" cy="218.27" r="1.0" fill="#ececec" stroke="#b0b0b0" stroke-width="0.5"/>
<circle cx="506.98" cy="217.12" r="1.0" fill="#ececec" stroke="#b0b0b0" stroke-width="0.5"/>
<circle cx="521.60" cy="215.97" r="1.0" fill="#ececec" stroke="#b0b0b0" stroke-width="0.5"/>
<circle cx="536.23" cy="214.80" r="1.0" fill="#ececec" stroke="#b0b0b0" stroke-width="0.5"/>
<circle cx="550.85" cy="213.62" r="1.0" fill="#ececec" stroke="#b0b0b0" stroke-width="0.5"/>
<circle cx="565.48" cy="212.26" r="1.0" fill="#ececec" stroke="#b0b0b0" stroke-width="0.5"/>
<circle cx="580.10" cy="210.48" r="1.0" fill="#ececec" stroke="#b0b0b0" stroke-width="0.5"/>
<circle cx="697.10" cy="42.60" r="1.0" fill="#ececec" stroke="#b0b0b0" stroke-width="0.5"/>
<circle cx="711.73" cy="41.17" r="1.0" fill="#ececec" stroke="#b0b0b0" stroke-width="0.5"/>
<circle cx="726.35" cy="40.03" r="1.0" fill="#ececec" stroke="#b0b0b0" stroke-width="0.5"/>
<circle cx="740.98" cy="39.39" r="1.0" fill="#ececec" stroke="#b0b0b0" stroke-width="0.5"/>
<circle cx="755.60" cy="39.12" r="1.0" fill="#ececec" stroke="#b0b0b0" stroke-width="0.5"/>
<circle cx="770.23" cy="38.62" r="1.0" fill="#ececec" stroke="#b0b0b0" stroke-width="0.5"/>
<circle cx="784.85" cy="38.01" r="1.0" fill="#ececec" stroke="#b0b0b0" stroke-width="0.5"/>
<polyline points="492.0,218.8 496.2,218.5 502.1,218.1 509.1,217.6 516.5,217.0 523.7,216.5 530.0,216.0 535.5,215.6 540.6,215.2 545.5,214.9 550.3,214.5 555.1,214.1 560.0,213.6 565.1,213.1 570.4,212.5 575.6,211.9 580.7,211.3 585.6,210.6 590.0,209.8 594.0,208.9 597.8,207.9 601.2,206.8 604.4,205.8 607.4,204.8 610.0,204.0 612.3,203.4 614.2,203.0 615.8,202.6 617.3,202.3 618.6,201.9 620.0,201.4 621.3,200.8 622.5,200.0 623.6,199.3 624.7,198.5 625.8,197.7 626.9,197.0 628.1,196.4 629.3,195.8 630.5,195.2 631.7,194.7 632.8,194.2 633.9,193.6 634.9,193.0 635.7,192.5 636.6,192.0 637.4,191.4 638.2,190.8 639.0,190.1 639.9,189.3 640.8,188.5 641.6,187.7 642.5,186.8 643.4,185.8 644.2,184.9 645.0,184.0 645.8,183.0 646.6,182.0 647.3,181.0 648.0,180.0 648.6,178.9 649.2,177.8 649.6,176.6 650.1,175.5 650.5,174.3 650.9,173.1 651.2,171.9 651.5,170.8 651.7,169.9 651.9,169.0 652.1,167.9 652.3,166.6 652.5,165.0 652.8,163.0 653.1,160.8 653.5,158.3 653.8,155.7 654.2,152.9 654.5,150.0 654.8,147.0 655.1,143.7 655.4,140.3 655.7,136.9 656.0,133.4 656.2,130.0 656.4,126.7 656.6,123.3 656.8,120.0 657.0,116.7 657.1,113.3 657.3,110.0 657.5,106.6 657.7,103.1 657.8,99.7 658.0,96.3 658.2,93.0 658.4,90.0 658.6,87.2 658.8,84.5 659.1,81.9 659.3,79.5 659.5,77.2 659.8,75.0 660.1,72.9 660.3,70.9 660.6,68.9 660.9,67.1 661.2,65.5 661.5,64.0 661.8,62.7 662.1,61.6 662.4,60.7 662.8,59.8 663.3,58.9 664.0,58.0 664.8,57.0 665.7,56.0 666.7,55.0 667.9,54.1 669.2,53.1 670.8,52.2 672.6,51.3 674.6,50.5 676.8,49.7 679.2,48.9 681.8,48.2 684.6,47.4 687.6,46.6 690.9,45.9 694.3,45.1 697.9,44.4 701.6,43.8 705.4,43.2 709.2,42.7 713.1,42.3 717.1,42.0 721.3,41.7 725.5,41.4 730.0,41.1 734.7,40.8 739.8,40.5 745.0,40.2 750.2,40.0 755.2,39.7 760.0,39.5 764.7,39.3 769.6,39.1 774.4,39.0 778.7,38.8 782.3,38.7 785.0,38.6" fill="none" stroke="#c8c8c8" stroke-width="2.3" stroke-linejoin="round" />
<circle cx="595.41" cy="208.54" r="1.0" fill="#ececec" stroke="#b0b0b0" stroke-width="0.5"/>
<circle cx="599.25" cy="207.44" r="1.0" fill="#ececec" stroke="#b0b0b0" stroke-width="0.5"/>
<circle cx="603.06" cy="206.23" r="1.0" fill="#ececec" stroke="#b0b0b0" stroke-width="0.5"/>
<circle cx="606.86" cy="204.97" r="1.0" fill="#ececec" stroke="#b0b0b0" stroke-width="0.5"/>
<circle cx="610.69" cy="203.82" r="1.0" fill="#ececec" stroke="#b0b0b0" stroke-width="0.5"/>
<circle cx="614.58" cy="202.88" r="1.0" fill="#ececec" stroke="#b0b0b0" stroke-width="0.5"/>
<circle cx="618.47" cy="201.95" r="1.0" fill="#ececec" stroke="#b0b0b0" stroke-width="0.5"/>
<circle cx="622.09" cy="200.29" r="1.0" fill="#ececec" stroke="#b0b0b0" stroke-width="0.5"/>
<circle cx="625.36" cy="197.99" r="1.0" fill="#ececec" stroke="#b0b0b0" stroke-width="0.5"/>
<circle cx="628.83" cy="196.02" r="1.0" fill="#ececec" stroke="#b0b0b0" stroke-width="0.5"/>
<circle cx="632.47" cy="194.34" r="1.0" fill="#ececec" stroke="#b0b0b0" stroke-width="0.5"/>
<circle cx="635.94" cy="192.37" r="1.0" fill="#ececec" stroke="#b0b0b0" stroke-width="0.5"/>
<circle cx="639.14" cy="189.97" r="1.0" fill="#ececec" stroke="#b0b0b0" stroke-width="0.5"/>
<circle cx="642.06" cy="187.23" r="1.0" fill="#ececec" stroke="#b0b0b0" stroke-width="0.5"/>
<circle cx="644.74" cy="184.27" r="1.0" fill="#ececec" stroke="#b0b0b0" stroke-width="0.5"/>
<circle cx="647.21" cy="181.12" r="1.0" fill="#ececec" stroke="#b0b0b0" stroke-width="0.5"/>
<circle cx="649.21" cy="177.67" r="1.0" fill="#ececec" stroke="#b0b0b0" stroke-width="0.5"/>
<circle cx="650.60" cy="173.92" r="1.0" fill="#ececec" stroke="#b0b0b0" stroke-width="0.5"/>
<circle cx="651.66" cy="170.06" r="1.0" fill="#ececec" stroke="#b0b0b0" stroke-width="0.5"/>
<circle cx="652.33" cy="166.12" r="1.0" fill="#ececec" stroke="#b0b0b0" stroke-width="0.5"/>
<circle cx="652.92" cy="162.17" r="1.0" fill="#ececec" stroke="#b0b0b0" stroke-width="0.5"/>
<circle cx="653.49" cy="158.21" r="1.0" fill="#ececec" stroke="#b0b0b0" stroke-width="0.5"/>
<circle cx="654.01" cy="154.24" r="1.0" fill="#ececec" stroke="#b0b0b0" stroke-width="0.5"/>
<circle cx="654.47" cy="150.27" r="1.0" fill="#ececec" stroke="#b0b0b0" stroke-width="0.5"/>
<circle cx="654.87" cy="146.29" r="1.0" fill="#ececec" stroke="#b0b0b0" stroke-width="0.5"/>
<circle cx="655.23" cy="142.30" r="1.0" fill="#ececec" stroke="#b0b0b0" stroke-width="0.5"/>
<circle cx="655.57" cy="138.32" r="1.0" fill="#ececec" stroke="#b0b0b0" stroke-width="0.5"/>
<circle cx="655.88" cy="134.33" r="1.0" fill="#ececec" stroke="#b0b0b0" stroke-width="0.5"/>
<circle cx="656.18" cy="130.34" r="1.0" fill="#ececec" stroke="#b0b0b0" stroke-width="0.5"/>
<circle cx="656.44" cy="126.35" r="1.0" fill="#ececec" stroke="#b0b0b0" stroke-width="0.5"/>
<circle cx="656.66" cy="122.36" r="1.0" fill="#ececec" stroke="#b0b0b0" stroke-width="0.5"/>
<circle cx="656.87" cy="118.36" r="1.0" fill="#ececec" stroke="#b0b0b0" stroke-width="0.5"/>
<circle cx="657.07" cy="114.37" r="1.0" fill="#ececec" stroke="#b0b0b0" stroke-width="0.5"/>
<circle cx="657.28" cy="110.37" r="1.0" fill="#ececec" stroke="#b0b0b0" stroke-width="0.5"/>
<circle cx="657.49" cy="106.38" r="1.0" fill="#ececec" stroke="#b0b0b0" stroke-width="0.5"/>
<circle cx="657.69" cy="102.38" r="1.0" fill="#ececec" stroke="#b0b0b0" stroke-width="0.5"/>
<circle cx="657.90" cy="98.39" r="1.0" fill="#ececec" stroke="#b0b0b0" stroke-width="0.5"/>
<circle cx="658.12" cy="94.39" r="1.0" fill="#ececec" stroke="#b0b0b0" stroke-width="0.5"/>
<circle cx="658.37" cy="90.40" r="1.0" fill="#ececec" stroke="#b0b0b0" stroke-width="0.5"/>
<circle cx="658.67" cy="86.41" r="1.0" fill="#ececec" stroke="#b0b0b0" stroke-width="0.5"/>
<circle cx="659.02" cy="82.43" r="1.0" fill="#ececec" stroke="#b0b0b0" stroke-width="0.5"/>
<circle cx="659.41" cy="78.45" r="1.0" fill="#ececec" stroke="#b0b0b0" stroke-width="0.5"/>
<circle cx="659.86" cy="74.47" r="1.0" fill="#ececec" stroke="#b0b0b0" stroke-width="0.5"/>
<circle cx="660.36" cy="70.50" r="1.0" fill="#ececec" stroke="#b0b0b0" stroke-width="0.5"/>
<circle cx="660.97" cy="66.55" r="1.0" fill="#ececec" stroke="#b0b0b0" stroke-width="0.5"/>
<circle cx="661.84" cy="62.65" r="1.0" fill="#ececec" stroke="#b0b0b0" stroke-width="0.5"/>
<circle cx="663.31" cy="58.95" r="1.0" fill="#ececec" stroke="#b0b0b0" stroke-width="0.5"/>
<circle cx="665.85" cy="55.86" r="1.0" fill="#ececec" stroke="#b0b0b0" stroke-width="0.5"/>
<circle cx="668.92" cy="53.31" r="1.0" fill="#ececec" stroke="#b0b0b0" stroke-width="0.5"/>
<circle cx="672.44" cy="51.42" r="1.0" fill="#ececec" stroke="#b0b0b0" stroke-width="0.5"/>
<circle cx="676.15" cy="49.95" r="1.0" fill="#ececec" stroke="#b0b0b0" stroke-width="0.5"/>
<circle cx="679.95" cy="48.70" r="1.0" fill="#ececec" stroke="#b0b0b0" stroke-width="0.5"/>
<circle cx="492.35" cy="218.77" r="1.0" fill="#ececec" stroke="#b0b0b0" stroke-width="0.5"/>
<circle cx="506.98" cy="217.71" r="1.0" fill="#ececec" stroke="#b0b0b0" stroke-width="0.5"/>
<circle cx="521.60" cy="216.63" r="1.0" fill="#ececec" stroke="#b0b0b0" stroke-width="0.5"/>
<circle cx="536.23" cy="215.54" r="1.0" fill="#ececec" stroke="#b0b0b0" stroke-width="0.5"/>
<circle cx="550.85" cy="214.44" r="1.0" fill="#ececec" stroke="#b0b0b0" stroke-width="0.5"/>
<circle cx="565.48" cy="213.03" r="1.0" fill="#ececec" stroke="#b0b0b0" stroke-width="0.5"/>
<circle cx="580.10" cy="211.35" r="1.0" fill="#ececec" stroke="#b0b0b0" stroke-width="0.5"/>
<circle cx="697.10" cy="44.58" r="1.0" fill="#ececec" stroke="#b0b0b0" stroke-width="0.5"/>
<circle cx="711.73" cy="42.47" r="1.0" fill="#ececec" stroke="#b0b0b0" stroke-width="0.5"/>
<circle cx="726.35" cy="41.34" r="1.0" fill="#ececec" stroke="#b0b0b0" stroke-width="0.5"/>
<circle cx="740.98" cy="40.44" r="1.0" fill="#ececec" stroke="#b0b0b0" stroke-width="0.5"/>
<circle cx="755.60" cy="39.70" r="1.0" fill="#ececec" stroke="#b0b0b0" stroke-width="0.5"/>
<circle cx="770.23" cy="39.09" r="1.0" fill="#ececec" stroke="#b0b0b0" stroke-width="0.5"/>
<circle cx="784.85" cy="38.61" r="1.0" fill="#ececec" stroke="#b0b0b0" stroke-width="0.5"/>
<polyline points="785.0,35.4 783.4,35.4 781.8,35.5 780.2,35.5 778.6,35.5 777.0,35.5 775.4,35.6 773.8,35.6 772.2,35.6 770.6,35.6 769.0,35.7 767.4,35.7 765.8,35.7 764.2,35.7 762.6,35.8 761.0,35.8 759.4,35.8 757.8,35.8 756.2,35.8 754.6,35.9 753.0,35.9 751.4,35.9 749.8,35.9 748.2,35.9 746.6,36.0 745.0,36.0 743.4,36.0 741.8,36.0 740.2,36.0 738.6,36.0 737.0,36.0 735.4,36.0 733.8,36.0 732.2,36.0 730.6,36.0 729.0,35.8 727.4,35.7 725.8,36.1 724.2,35.6 722.6,36.0 721.0,35.9 719.4,35.6 717.8,36.0 716.2,35.7 714.6,36.1 713.0,35.8 711.4,35.9 709.8,36.3 708.2,36.7 706.6,36.2 705.0,36.4 703.4,36.8 701.8,37.1 700.2,36.8 698.6,36.7 697.0,37.3 695.4,36.5 693.8,37.2 692.2,36.8 690.6,36.7 689.0,36.7 687.4,36.9 685.8,37.4 684.2,36.9 682.6,37.3 681.0,37.4 679.4,37.2 677.8,37.4 676.2,37.1 674.6,37.1 673.0,37.3 671.4,37.8 669.8,37.6 668.2,37.6 666.6,37.9 665.0,37.9 663.4,37.9 661.8,38.4 660.3,38.4 658.7,38.1 657.1,38.5 655.5,38.6 653.9,39.1 652.3,39.1 650.7,38.8 649.1,39.6 647.5,39.0 645.9,39.5 644.3,40.1 642.8,39.7 641.2,40.3 639.6,40.1 638.0,41.0 636.4,41.3 634.9,41.4 633.3,42.1 631.8,42.1 630.3,43.0 628.9,43.8 627.7,44.8 626.7,45.9 625.8,47.6 625.2,49.1 624.7,50.2 624.3,52.0 624.1,53.0 623.8,55.2 623.6,56.7 623.5,58.6 623.3,60.0 623.2,61.1 623.1,62.8 622.9,64.7 622.8,65.7 622.7,67.7 622.6,69.0 622.6,70.6 622.5,72.1 622.4,74.4 622.3,75.4 622.3,77.1 622.2,78.8 622.1,80.8 622.1,81.7 622.0,83.7 622.0,85.3 621.9,87.2 621.9,88.8 621.8,90.4 621.7,91.5 621.7,93.2 621.6,94.8 621.6,96.8 621.5,98.5 621.5,99.4 621.5,101.0 621.4,102.7 621.4,104.3 621.3,106.1 621.3,107.8 621.2,109.1 621.2,110.4 621.1,112.4 621.1,114.0 621.0,115.8 621.0,117.7 620.9,119.1 620.9,120.5 620.8,122.2 620.8,123.8 620.7,124.9 620.7,127.2 620.6,128.7 620.6,130.4 620.5,132.0 620.5,133.2 620.5,134.8 620.4,136.1 620.4,138.2 620.3,139.3 620.3,140.9 620.2,142.6 620.2,144.2 620.1,145.9 620.1,147.3 620.0,148.8 620.0,150.6 619.9,152.1 619.9,154.0 619.8,155.2 619.8,157.6 619.7,159.0 619.7,160.2 619.6,161.8 619.6,163.5 619.5,165.1 619.5,166.5 619.4,168.8 619.4,170.5 619.4,171.6 619.3,173.3 619.3,174.5 619.2,176.1 619.2,177.9 619.1,179.5 619.1,181.6 619.0,182.6 619.0,184.0 618.9,186.5 618.9,187.7 618.8,188.9 618.8,190.9 618.7,192.0 618.6,194.1 618.6,196.1 618.5,197.6 618.4,199.0 618.3,200.2 618.1,201.9 617.9,203.3 617.4,205.4 616.8,206.6 616.1,208.3 615.2,209.2 614.1,210.3 612.7,211.6 611.2,212.3 609.7,212.5 608.1,212.8 606.6,213.3 605.0,213.5 603.4,213.3 601.8,213.8 600.3,213.9 598.7,213.8 597.1,214.0 595.5,214.5 593.9,214.6 592.3,215.2 590.7,215.5 589.1,215.2 587.5,215.8 585.9,216.0 584.3,216.0 582.7,215.6 581.2,215.6 579.6,215.7 578.0,215.8 576.4,215.9 574.8,216.4 573.2,216.7 571.6,216.7 570.0,216.5 568.4,216.7 566.8,216.9 565.2,216.4 563.6,216.9 562.0,217.2 560.4,217.2 558.8,217.0 557.2,217.0 555.6,217.1 554.0,217.2 552.4,217.2 550.8,217.3 549.2,217.4 547.6,217.4 546.0,217.5 544.4,217.6 542.8,217.7 541.2,217.7 539.6,217.8 538.0,217.9 536.4,218.0 534.8,218.1 533.2,218.2 531.6,218.3 530.0,218.4 528.4,218.5 526.8,218.6 525.2,218.8 523.6,218.9 522.0,219.0 520.4,219.1 518.8,219.2 517.2,219.3 515.7,219.4 514.1,219.5 512.5,219.6 510.9,219.7 509.3,219.8 507.7,219.9 506.1,220.0 504.5,220.1 502.9,220.2 501.3,220.3 499.7,220.4 498.1,220.5 496.5,220.6 494.9,220.6 493.3,220.7" fill="none" stroke="#128a12" stroke-width="1.7" stroke-linejoin="round" />
<circle cx="727.40" cy="35.66" r="1.0" fill="#0c700c"/>
<circle cx="724.20" cy="35.58" r="1.0" fill="#0c700c"/>
<circle cx="721.00" cy="35.86" r="1.0" fill="#0c700c"/>
<circle cx="717.80" cy="36.04" r="1.0" fill="#0c700c"/>
<circle cx="714.61" cy="36.07" r="1.0" fill="#0c700c"/>
<circle cx="711.41" cy="35.91" r="1.0" fill="#0c700c"/>
<circle cx="708.21" cy="36.75" r="1.0" fill="#0c700c"/>
<circle cx="705.02" cy="36.35" r="1.0" fill="#0c700c"/>
<circle cx="701.82" cy="37.11" r="1.0" fill="#0c700c"/>
<circle cx="698.62" cy="36.70" r="1.0" fill="#0c700c"/>
<circle cx="695.42" cy="36.47" r="1.0" fill="#0c700c"/>
<circle cx="692.22" cy="36.78" r="1.0" fill="#0c700c"/>
<circle cx="689.02" cy="36.71" r="1.0" fill="#0c700c"/>
<circle cx="685.83" cy="37.43" r="1.0" fill="#0c700c"/>
<circle cx="682.63" cy="37.32" r="1.0" fill="#0c700c"/>
<circle cx="679.43" cy="37.23" r="1.0" fill="#0c700c"/>
<circle cx="676.23" cy="37.07" r="1.0" fill="#0c700c"/>
<circle cx="673.03" cy="37.32" r="1.0" fill="#0c700c"/>
<circle cx="669.84" cy="37.64" r="1.0" fill="#0c700c"/>
<circle cx="666.64" cy="37.93" r="1.0" fill="#0c700c"/>
<circle cx="663.44" cy="37.86" r="1.0" fill="#0c700c"/>
<circle cx="660.25" cy="38.42" r="1.0" fill="#0c700c"/>
<circle cx="657.06" cy="38.54" r="1.0" fill="#0c700c"/>
<circle cx="653.87" cy="39.07" r="1.0" fill="#0c700c"/>
<circle cx="650.68" cy="38.84" r="1.0" fill="#0c700c"/>
<circle cx="647.50" cy="39.05" r="1.0" fill="#0c700c"/>
<circle cx="644.33" cy="40.05" r="1.0" fill="#0c700c"/>
<circle cx="641.17" cy="40.30" r="1.0" fill="#0c700c"/>
<circle cx="638.01" cy="40.96" r="1.0" fill="#0c700c"/>
<circle cx="634.86" cy="41.41" r="1.0" fill="#0c700c"/>
<circle cx="631.78" cy="42.06" r="1.0" fill="#0c700c"/>
<circle cx="628.95" cy="43.77" r="1.0" fill="#0c700c"/>
<circle cx="626.68" cy="45.87" r="1.0" fill="#0c700c"/>
<circle cx="625.17" cy="49.13" r="1.0" fill="#0c700c"/>
<circle cx="624.33" cy="51.96" r="1.0" fill="#0c700c"/>
<circle cx="623.84" cy="55.15" r="1.0" fill="#0c700c"/>
<circle cx="623.49" cy="58.60" r="1.0" fill="#0c700c"/>
<circle cx="623.19" cy="61.14" r="1.0" fill="#0c700c"/>
<circle cx="622.94" cy="64.68" r="1.0" fill="#0c700c"/>
<circle cx="622.73" cy="67.69" r="1.0" fill="#0c700c"/>
<circle cx="622.55" cy="70.57" r="1.0" fill="#0c700c"/>
<circle cx="622.40" cy="74.36" r="1.0" fill="#0c700c"/>
<circle cx="622.27" cy="77.08" r="1.0" fill="#0c700c"/>
<circle cx="622.14" cy="80.84" r="1.0" fill="#0c700c"/>
<circle cx="622.02" cy="83.66" r="1.0" fill="#0c700c"/>
<circle cx="621.91" cy="87.25" r="1.0" fill="#0c700c"/>
<circle cx="621.80" cy="90.43" r="1.0" fill="#0c700c"/>
<circle cx="621.69" cy="93.22" r="1.0" fill="#0c700c"/>
<circle cx="621.59" cy="96.84" r="1.0" fill="#0c700c"/>
<circle cx="621.50" cy="99.38" r="1.0" fill="#0c700c"/>
<circle cx="621.41" cy="102.65" r="1.0" fill="#0c700c"/>
<circle cx="621.31" cy="106.08" r="1.0" fill="#0c700c"/>
<circle cx="621.22" cy="109.08" r="1.0" fill="#0c700c"/>
<circle cx="621.13" cy="112.42" r="1.0" fill="#0c700c"/>
<circle cx="621.03" cy="115.75" r="1.0" fill="#0c700c"/>
<circle cx="620.93" cy="119.06" r="1.0" fill="#0c700c"/>
<circle cx="620.84" cy="122.19" r="1.0" fill="#0c700c"/>
<circle cx="620.74" cy="124.88" r="1.0" fill="#0c700c"/>
<circle cx="620.65" cy="128.74" r="1.0" fill="#0c700c"/>
<circle cx="620.55" cy="131.95" r="1.0" fill="#0c700c"/>
<circle cx="620.45" cy="134.79" r="1.0" fill="#0c700c"/>
<circle cx="620.36" cy="138.20" r="1.0" fill="#0c700c"/>
<circle cx="620.26" cy="140.89" r="1.0" fill="#0c700c"/>
<circle cx="620.17" cy="144.17" r="1.0" fill="#0c700c"/>
<circle cx="620.07" cy="147.27" r="1.0" fill="#0c700c"/>
<circle cx="619.97" cy="150.56" r="1.0" fill="#0c700c"/>
<circle cx="619.88" cy="153.95" r="1.0" fill="#0c700c"/>
<circle cx="619.78" cy="157.61" r="1.0" fill="#0c700c"/>
<circle cx="619.69" cy="160.15" r="1.0" fill="#0c700c"/>
<circle cx="619.59" cy="163.53" r="1.0" fill="#0c700c"/>
<circle cx="619.49" cy="166.53" r="1.0" fill="#0c700c"/>
<circle cx="619.40" cy="170.51" r="1.0" fill="#0c700c"/>
<circle cx="619.30" cy="173.25" r="1.0" fill="#0c700c"/>
<circle cx="619.21" cy="176.11" r="1.0" fill="#0c700c"/>
<circle cx="619.12" cy="179.45" r="1.0" fill="#0c700c"/>
<circle cx="619.03" cy="182.56" r="1.0" fill="#0c700c"/>
<circle cx="618.93" cy="186.47" r="1.0" fill="#0c700c"/>
<circle cx="618.83" cy="188.94" r="1.0" fill="#0c700c"/>
<circle cx="618.71" cy="192.03" r="1.0" fill="#0c700c"/>
<circle cx="618.58" cy="196.08" r="1.0" fill="#0c700c"/>
<circle cx="618.39" cy="199.02" r="1.0" fill="#0c700c"/>
<circle cx="618.15" cy="201.92" r="1.0" fill="#0c700c"/>
<circle cx="617.44" cy="205.39" r="1.0" fill="#0c700c"/>
<circle cx="616.11" cy="208.30" r="1.0" fill="#0c700c"/>
<circle cx="614.14" cy="210.29" r="1.0" fill="#0c700c"/>
<circle cx="611.23" cy="212.27" r="1.0" fill="#0c700c"/>
<circle cx="608.12" cy="212.85" r="1.0" fill="#0c700c"/>
<circle cx="605.00" cy="213.53" r="1.0" fill="#0c700c"/>
<circle cx="601.85" cy="213.84" r="1.0" fill="#0c700c"/>
<circle cx="598.68" cy="213.84" r="1.0" fill="#0c700c"/>
<circle cx="595.50" cy="214.46" r="1.0" fill="#0c700c"/>
<circle cx="592.32" cy="215.16" r="1.0" fill="#0c700c"/>
<circle cx="589.13" cy="215.22" r="1.0" fill="#0c700c"/>
<circle cx="585.94" cy="215.96" r="1.0" fill="#0c700c"/>
<circle cx="582.75" cy="215.62" r="1.0" fill="#0c700c"/>
<circle cx="579.55" cy="215.71" r="1.0" fill="#0c700c"/>
<circle cx="576.36" cy="215.88" r="1.0" fill="#0c700c"/>
<circle cx="573.17" cy="216.69" r="1.0" fill="#0c700c"/>
<circle cx="569.97" cy="216.48" r="1.0" fill="#0c700c"/>
<circle cx="566.77" cy="216.92" r="1.0" fill="#0c700c"/>
<circle cx="563.58" cy="216.94" r="1.0" fill="#0c700c"/>
<circle cx="560.38" cy="217.18" r="1.0" fill="#0c700c"/>
<circle cx="492.35" cy="220.78" r="1.1" fill="#0c700c"/>
<circle cx="506.98" cy="219.98" r="1.1" fill="#0c700c"/>
<circle cx="521.60" cy="219.01" r="1.1" fill="#0c700c"/>
<circle cx="536.23" cy="218.02" r="1.1" fill="#0c700c"/>
<circle cx="550.85" cy="217.30" r="1.1" fill="#0c700c"/>
<circle cx="740.98" cy="35.99" r="1.1" fill="#0c700c"/>
<circle cx="755.60" cy="35.86" r="1.1" fill="#0c700c"/>
<circle cx="770.23" cy="35.64" r="1.1" fill="#0c700c"/>
<circle cx="784.85" cy="35.40" r="1.1" fill="#0c700c"/>
<polyline points="492.0,222.2 493.6,222.2 495.2,222.1 496.8,222.1 498.4,222.0 500.0,222.0 501.6,221.9 503.2,221.9 504.8,221.8 506.4,221.8 508.0,221.7 509.6,221.7 511.2,221.7 512.8,221.6 514.4,221.6 516.0,221.5 517.6,221.5 519.2,221.4 520.8,221.4 522.4,221.3 524.0,221.3 525.6,221.2 527.2,221.2 528.8,221.1 530.4,221.1 532.0,221.0 533.6,221.0 535.2,220.9 536.8,220.9 538.4,220.8 540.0,220.8 541.6,220.7 543.2,220.7 544.8,220.6 546.4,220.6 548.0,220.6 549.6,220.5 551.2,220.5 552.8,220.4 554.4,220.4 556.0,220.4 557.6,220.3 559.2,220.3 560.8,220.5 562.4,220.2 564.0,219.9 565.6,220.4 567.2,220.0 568.8,220.4 570.4,220.5 572.0,219.9 573.6,219.9 575.2,220.3 576.8,220.1 578.4,219.6 580.0,219.5 581.6,219.4 583.2,220.0 584.8,219.9 586.4,219.2 588.0,219.8 589.6,219.9 591.2,219.5 592.8,219.2 594.4,219.3 596.0,218.8 597.6,218.6 599.2,219.4 600.7,219.1 602.3,218.9 603.9,219.2 605.5,218.6 607.1,219.0 608.7,218.9 610.3,218.2 611.9,218.2 613.5,218.2 615.1,218.0 616.7,218.3 618.3,217.9 619.9,218.0 621.5,217.7 623.1,218.3 624.7,217.7 626.3,217.7 627.9,217.7 629.5,217.9 631.1,217.3 632.7,217.6 634.3,217.1 635.9,216.9 637.5,216.7 639.0,216.0 640.6,216.0 642.2,215.4 643.7,214.7 645.1,214.7 646.5,213.3 647.7,212.6 648.9,211.7 649.9,210.3 650.7,208.7 651.3,207.4 651.8,205.9 652.3,204.6 652.6,202.4 653.0,201.3 653.3,199.4 653.5,197.9 653.8,196.8 654.0,194.9 654.2,193.4 654.3,192.0 654.4,190.5 654.5,188.5 654.6,187.0 654.7,185.4 654.8,183.8 654.9,182.3 655.0,180.5 655.1,179.0 655.1,177.3 655.2,176.2 655.3,174.3 655.3,172.9 655.4,171.4 655.5,169.2 655.5,167.8 655.6,166.6 655.6,164.9 655.7,162.6 655.8,161.0 655.8,159.7 655.9,157.8 655.9,156.3 656.0,154.6 656.0,153.5 656.0,152.0 656.1,150.5 656.1,148.3 656.2,147.2 656.2,145.5 656.2,143.5 656.3,142.5 656.3,141.0 656.4,138.7 656.4,137.8 656.4,135.7 656.5,134.2 656.5,133.0 656.6,131.3 656.6,129.1 656.7,127.7 656.7,126.2 656.8,124.4 656.9,122.7 656.9,121.2 657.0,120.0 657.1,117.8 657.1,116.6 657.2,114.9 657.3,113.0 657.3,111.6 657.4,110.3 657.5,108.6 657.5,106.6 657.6,105.8 657.7,104.1 657.7,102.6 657.8,100.3 657.9,98.8 657.9,97.0 658.0,96.1 658.0,94.0 658.1,92.3 658.2,90.9 658.2,89.8 658.3,88.1 658.3,86.0 658.4,84.3 658.4,83.4 658.5,81.5 658.5,80.0 658.5,77.9 658.6,76.2 658.6,75.2 658.7,73.4 658.7,71.4 658.8,70.6 658.9,68.7 658.9,67.3 659.0,65.1 659.1,64.2 659.2,61.8 659.3,61.0 659.5,59.0 659.6,57.3 659.8,55.9 660.0,54.7 660.1,52.5 660.3,50.8 660.6,49.5 660.9,47.7 661.2,46.0 661.6,44.5 662.1,42.9 662.7,41.6 663.6,40.3 665.0,39.8 666.6,40.7 668.0,41.0 669.4,41.9 670.8,42.4 672.1,43.4 673.5,43.9 675.0,44.8 676.5,45.1 678.0,46.3 679.6,46.5 681.1,46.5 682.7,46.9 684.3,47.1 685.7,45.7 687.2,45.7 688.7,44.7 690.2,44.1 691.6,43.8 693.1,42.8 694.6,42.3 696.1,42.0 697.7,41.9 699.2,41.0 700.8,41.1 702.4,40.8 704.0,40.4 705.5,39.9 707.1,39.5 708.7,38.9 710.3,38.7 711.8,38.5 713.4,38.9 715.0,38.4 716.6,38.2 718.2,38.0 719.8,38.6 721.4,38.6 723.0,38.3 724.6,37.9 726.2,37.8 727.8,37.7 729.4,37.8 731.0,37.8 732.6,37.7 734.2,37.6 735.8,37.6 737.4,37.5 739.0,37.4 740.6,37.4 742.2,37.3 743.8,37.2 745.4,37.2 747.0,37.1 748.6,37.1 750.2,37.0 751.8,36.9 753.4,36.9 755.0,36.8 756.6,36.8 758.2,36.7 759.8,36.6 761.4,36.6 763.0,36.5 764.6,36.5 766.2,36.4 767.8,36.4 769.4,36.3 771.0,36.3 772.6,36.2 774.2,36.2 775.8,36.1 777.4,36.1 779.0,36.0 780.6,35.9 782.2,35.9 783.8,35.8" fill="none" stroke="#128a12" stroke-width="1.7" stroke-linejoin="round" />
<circle cx="562.37" cy="220.21" r="1.0" fill="#0c700c"/>
<circle cx="565.57" cy="220.42" r="1.0" fill="#0c700c"/>
<circle cx="568.77" cy="220.37" r="1.0" fill="#0c700c"/>
<circle cx="571.97" cy="219.93" r="1.0" fill="#0c700c"/>
<circle cx="575.17" cy="220.35" r="1.0" fill="#0c700c"/>
<circle cx="578.37" cy="219.55" r="1.0" fill="#0c700c"/>
<circle cx="581.57" cy="219.43" r="1.0" fill="#0c700c"/>
<circle cx="584.76" cy="219.90" r="1.0" fill="#0c700c"/>
<circle cx="587.96" cy="219.79" r="1.0" fill="#0c700c"/>
<circle cx="591.16" cy="219.51" r="1.0" fill="#0c700c"/>
<circle cx="594.36" cy="219.27" r="1.0" fill="#0c700c"/>
<circle cx="597.55" cy="218.64" r="1.0" fill="#0c700c"/>
<circle cx="600.75" cy="219.07" r="1.0" fill="#0c700c"/>
<circle cx="603.94" cy="219.17" r="1.0" fill="#0c700c"/>
<circle cx="607.14" cy="218.97" r="1.0" fill="#0c700c"/>
<circle cx="610.34" cy="218.22" r="1.0" fill="#0c700c"/>
<circle cx="613.53" cy="218.16" r="1.0" fill="#0c700c"/>
<circle cx="616.73" cy="218.28" r="1.0" fill="#0c700c"/>
<circle cx="619.93" cy="217.99" r="1.0" fill="#0c700c"/>
<circle cx="623.13" cy="218.28" r="1.0" fill="#0c700c"/>
<circle cx="626.32" cy="217.70" r="1.0" fill="#0c700c"/>
<circle cx="629.51" cy="217.90" r="1.0" fill="#0c700c"/>
<circle cx="632.70" cy="217.64" r="1.0" fill="#0c700c"/>
<circle cx="635.88" cy="216.93" r="1.0" fill="#0c700c"/>
<circle cx="639.04" cy="215.95" r="1.0" fill="#0c700c"/>
<circle cx="642.16" cy="215.41" r="1.0" fill="#0c700c"/>
<circle cx="645.10" cy="214.71" r="1.0" fill="#0c700c"/>
<circle cx="647.71" cy="212.59" r="1.0" fill="#0c700c"/>
<circle cx="649.86" cy="210.30" r="1.0" fill="#0c700c"/>
<circle cx="651.32" cy="207.43" r="1.0" fill="#0c700c"/>
<circle cx="652.25" cy="204.61" r="1.0" fill="#0c700c"/>
<circle cx="652.96" cy="201.29" r="1.0" fill="#0c700c"/>
<circle cx="653.53" cy="197.89" r="1.0" fill="#0c700c"/>
<circle cx="653.98" cy="194.93" r="1.0" fill="#0c700c"/>
<circle cx="654.31" cy="191.97" r="1.0" fill="#0c700c"/>
<circle cx="654.55" cy="188.49" r="1.0" fill="#0c700c"/>
<circle cx="654.73" cy="185.36" r="1.0" fill="#0c700c"/>
<circle cx="654.91" cy="182.33" r="1.0" fill="#0c700c"/>
<circle cx="655.06" cy="178.99" r="1.0" fill="#0c700c"/>
<circle cx="655.20" cy="176.16" r="1.0" fill="#0c700c"/>
<circle cx="655.34" cy="172.90" r="1.0" fill="#0c700c"/>
<circle cx="655.46" cy="169.15" r="1.0" fill="#0c700c"/>
<circle cx="655.58" cy="166.57" r="1.0" fill="#0c700c"/>
<circle cx="655.70" cy="162.65" r="1.0" fill="#0c700c"/>
<circle cx="655.81" cy="159.72" r="1.0" fill="#0c700c"/>
<circle cx="655.90" cy="156.34" r="1.0" fill="#0c700c"/>
<circle cx="655.99" cy="153.53" r="1.0" fill="#0c700c"/>
<circle cx="656.08" cy="150.53" r="1.0" fill="#0c700c"/>
<circle cx="656.16" cy="147.17" r="1.0" fill="#0c700c"/>
<circle cx="656.24" cy="143.46" r="1.0" fill="#0c700c"/>
<circle cx="656.31" cy="141.00" r="1.0" fill="#0c700c"/>
<circle cx="656.39" cy="137.79" r="1.0" fill="#0c700c"/>
<circle cx="656.48" cy="134.17" r="1.0" fill="#0c700c"/>
<circle cx="656.57" cy="131.28" r="1.0" fill="#0c700c"/>
<circle cx="656.68" cy="127.72" r="1.0" fill="#0c700c"/>
<circle cx="656.79" cy="124.44" r="1.0" fill="#0c700c"/>
<circle cx="656.92" cy="121.23" r="1.0" fill="#0c700c"/>
<circle cx="657.05" cy="117.76" r="1.0" fill="#0c700c"/>
<circle cx="657.19" cy="114.94" r="1.0" fill="#0c700c"/>
<circle cx="657.33" cy="111.65" r="1.0" fill="#0c700c"/>
<circle cx="657.46" cy="108.61" r="1.0" fill="#0c700c"/>
<circle cx="657.59" cy="105.84" r="1.0" fill="#0c700c"/>
<circle cx="657.72" cy="102.63" r="1.0" fill="#0c700c"/>
<circle cx="657.85" cy="98.80" r="1.0" fill="#0c700c"/>
<circle cx="657.98" cy="96.06" r="1.0" fill="#0c700c"/>
<circle cx="658.10" cy="92.28" r="1.0" fill="#0c700c"/>
<circle cx="658.22" cy="89.79" r="1.0" fill="#0c700c"/>
<circle cx="658.32" cy="86.00" r="1.0" fill="#0c700c"/>
<circle cx="658.41" cy="83.40" r="1.0" fill="#0c700c"/>
<circle cx="658.50" cy="80.00" r="1.0" fill="#0c700c"/>
<circle cx="658.59" cy="76.22" r="1.0" fill="#0c700c"/>
<circle cx="658.68" cy="73.36" r="1.0" fill="#0c700c"/>
<circle cx="658.79" cy="70.62" r="1.0" fill="#0c700c"/>
<circle cx="658.93" cy="67.30" r="1.0" fill="#0c700c"/>
<circle cx="659.10" cy="64.15" r="1.0" fill="#0c700c"/>
<circle cx="659.35" cy="60.97" r="1.0" fill="#0c700c"/>
<circle cx="659.63" cy="57.31" r="1.0" fill="#0c700c"/>
<circle cx="659.95" cy="54.66" r="1.0" fill="#0c700c"/>
<circle cx="660.34" cy="50.76" r="1.0" fill="#0c700c"/>
<circle cx="660.85" cy="47.70" r="1.0" fill="#0c700c"/>
<circle cx="661.56" cy="44.51" r="1.0" fill="#0c700c"/>
<circle cx="662.70" cy="41.56" r="1.0" fill="#0c700c"/>
<circle cx="665.03" cy="39.78" r="1.0" fill="#0c700c"/>
<circle cx="667.99" cy="40.95" r="1.0" fill="#0c700c"/>
<circle cx="670.79" cy="42.40" r="1.0" fill="#0c700c"/>
<circle cx="673.54" cy="43.88" r="1.0" fill="#0c700c"/>
<circle cx="676.48" cy="45.14" r="1.0" fill="#0c700c"/>
<circle cx="679.55" cy="46.49" r="1.0" fill="#0c700c"/>
<circle cx="682.72" cy="46.87" r="1.0" fill="#0c700c"/>
<circle cx="685.74" cy="45.66" r="1.0" fill="#0c700c"/>
<circle cx="688.69" cy="44.70" r="1.0" fill="#0c700c"/>
<circle cx="691.63" cy="43.79" r="1.0" fill="#0c700c"/>
<circle cx="694.61" cy="42.34" r="1.0" fill="#0c700c"/>
<circle cx="697.68" cy="41.89" r="1.0" fill="#0c700c"/>
<circle cx="700.82" cy="41.14" r="1.0" fill="#0c700c"/>
<circle cx="703.98" cy="40.42" r="1.0" fill="#0c700c"/>
<circle cx="707.11" cy="39.52" r="1.0" fill="#0c700c"/>
<circle cx="710.26" cy="38.74" r="1.0" fill="#0c700c"/>
<circle cx="713.44" cy="38.93" r="1.0" fill="#0c700c"/>
<circle cx="716.63" cy="38.17" r="1.0" fill="#0c700c"/>
<circle cx="719.82" cy="38.62" r="1.0" fill="#0c700c"/>
<circle cx="723.02" cy="38.30" r="1.0" fill="#0c700c"/>
<circle cx="726.21" cy="37.77" r="1.0" fill="#0c700c"/>
<circle cx="729.41" cy="37.82" r="1.0" fill="#0c700c"/>
<circle cx="492.35" cy="222.19" r="1.1" fill="#0c700c"/>
<circle cx="506.98" cy="221.78" r="1.1" fill="#0c700c"/>
<circle cx="521.60" cy="221.35" r="1.1" fill="#0c700c"/>
<circle cx="536.23" cy="220.90" r="1.1" fill="#0c700c"/>
<circle cx="550.85" cy="220.48" r="1.1" fill="#0c700c"/>
<circle cx="740.98" cy="37.36" r="1.1" fill="#0c700c"/>
<circle cx="755.60" cy="36.79" r="1.1" fill="#0c700c"/>
<circle cx="770.23" cy="36.29" r="1.1" fill="#0c700c"/>
<circle cx="784.85" cy="35.81" r="1.1" fill="#0c700c"/>
</g>
<rect x="492.1" y="11.05" width="292.80" height="238.65" fill="none" stroke="#000" stroke-width="1.8"/>
<line x1="492.1" y1="34.70" x2="496.90000000000003" y2="34.70" stroke="#000" stroke-width="1.4"/>
<line x1="492.1" y1="82.35" x2="496.90000000000003" y2="82.35" stroke="#000" stroke-width="1.4"/>
<line x1="492.1" y1="130.00" x2="496.90000000000003" y2="130.00" stroke="#000" stroke-width="1.4"/>
<line x1="492.1" y1="177.65" x2="496.90000000000003" y2="177.65" stroke="#000" stroke-width="1.4"/>
<line x1="492.1" y1="225.30" x2="496.90000000000003" y2="225.30" stroke="#000" stroke-width="1.4"/>
<line x1="492.1" y1="58.53" x2="494.90000000000003" y2="58.53" stroke="#000" stroke-width="1.2"/>
<line x1="492.1" y1="106.17" x2="494.90000000000003" y2="106.17" stroke="#000" stroke-width="1.2"/>
<line x1="492.1" y1="153.82" x2="494.90000000000003" y2="153.82" stroke="#000" stroke-width="1.2"/>
<line x1="492.1" y1="201.47" x2="494.90000000000003" y2="201.47" stroke="#000" stroke-width="1.2"/>
<line x1="521.60" y1="249.7" x2="521.60" y2="244.89999999999998" stroke="#000" stroke-width="1.4"/>
<line x1="580.10" y1="249.7" x2="580.10" y2="244.89999999999998" stroke="#000" stroke-width="1.4"/>
<line x1="638.60" y1="249.7" x2="638.60" y2="244.89999999999998" stroke="#000" stroke-width="1.4"/>
<line x1="697.10" y1="249.7" x2="697.10" y2="244.89999999999998" stroke="#000" stroke-width="1.4"/>
<line x1="755.60" y1="249.7" x2="755.60" y2="244.89999999999998" stroke="#000" stroke-width="1.4"/>
<line x1="550.85" y1="249.7" x2="550.85" y2="246.89999999999998" stroke="#000" stroke-width="1.2"/>
<line x1="609.35" y1="249.7" x2="609.35" y2="246.89999999999998" stroke="#000" stroke-width="1.2"/>
<line x1="667.85" y1="249.7" x2="667.85" y2="246.89999999999998" stroke="#000" stroke-width="1.2"/>
<line x1="726.35" y1="249.7" x2="726.35" y2="246.89999999999998" stroke="#000" stroke-width="1.2"/>
<text x="465.15" y="38.66" font-size="14.23" fill="#1a1a1a" stroke="#1a1a1a" stroke-width="0.25" textLength="21.78" lengthAdjust="spacingAndGlyphs" >1.0</text>
<text x="465.79" y="86.31" font-size="14.23" fill="#1a1a1a" stroke="#1a1a1a" stroke-width="0.25" textLength="21.12" lengthAdjust="spacingAndGlyphs" >0.5</text>
<text x="465.17" y="133.96" font-size="14.23" fill="#1a1a1a" stroke="#1a1a1a" stroke-width="0.25" textLength="21.75" lengthAdjust="spacingAndGlyphs" >0.0</text>
<text x="458.85" y="181.61" font-size="14.23" fill="#1a1a1a" stroke="#1a1a1a" stroke-width="0.25" textLength="28.16" lengthAdjust="spacingAndGlyphs" >-0.5</text>
<text x="458.64" y="229.26" font-size="14.23" fill="#1a1a1a" stroke="#1a1a1a" stroke-width="0.25" textLength="28.37" lengthAdjust="spacingAndGlyphs" >-1.0</text>
<text x="505.36" y="265.56" font-size="14.37" fill="#1a1a1a" stroke="#1a1a1a" stroke-width="0.25" textLength="32.11" lengthAdjust="spacingAndGlyphs" >-400</text>
<text x="564.48" y="265.56" font-size="14.37" fill="#1a1a1a" stroke="#1a1a1a" stroke-width="0.25" textLength="31.17" lengthAdjust="spacingAndGlyphs" >-200</text>
<text x="634.21" y="265.56" font-size="14.37" fill="#1a1a1a" stroke="#1a1a1a" stroke-width="0.25" textLength="8.23" lengthAdjust="spacingAndGlyphs" >0</text>
<text x="684.04" y="265.56" font-size="14.37" fill="#1a1a1a" stroke="#1a1a1a" stroke-width="0.25" textLength="25.45" lengthAdjust="spacingAndGlyphs" >200</text>
<text x="742.19" y="265.56" font-size="14.37" fill="#1a1a1a" stroke="#1a1a1a" stroke-width="0.25" textLength="26.12" lengthAdjust="spacingAndGlyphs" >400</text>
<text x="617.57" y="284.38" font-size="14.36" fill="#1a1a1a" stroke="#1a1a1a" stroke-width="0.25" textLength="46.05" lengthAdjust="spacingAndGlyphs" >H (Oe)</text>
<text x="0" y="0" font-size="13.51" fill="#1a1a1a" stroke="#1a1a1a" stroke-width="0.25" textLength="36.40" lengthAdjust="spacingAndGlyphs" transform="translate(451.17,150.89) rotate(-90)">M/Ms</text>
<line x1="498.7" y1="24.3" x2="528.4" y2="24.3" stroke="#111" stroke-width="1.6"/>
<circle cx="513.6" cy="24.3" r="1.5" fill="#fff" stroke="#777" stroke-width="0.7"/>
<text x="532.37" y="28.89" font-size="11.41" fill="#1a1a1a" stroke="#1a1a1a" stroke-width="0.25" textLength="14.07" lengthAdjust="spacingAndGlyphs" >90</text>
<circle cx="549.0" cy="20.10" r="1.45" fill="none" stroke="#1a1a1a" stroke-width="0.85"/>
<text x="555.95" y="28.89" font-size="11.22" fill="#1a1a1a" stroke="#1a1a1a" stroke-width="0.25" textLength="49.39" lengthAdjust="spacingAndGlyphs" >0 kV/cm</text>
<line x1="498.7" y1="43.0" x2="528.4" y2="43.0" stroke="#f00" stroke-width="1.6"/>
<circle cx="513.6" cy="43.0" r="1.5" fill="#fff" stroke="#f66" stroke-width="0.7"/>
<text x="532.57" y="47.09" font-size="11.41" fill="#1a1a1a" stroke="#1a1a1a" stroke-width="0.25" textLength="6.03" lengthAdjust="spacingAndGlyphs" >0</text>
<circle cx="541.55" cy="38.30" r="1.45" fill="none" stroke="#1a1a1a" stroke-width="0.85"/>
<text x="556.88" y="47.09" font-size="11.22" fill="#1a1a1a" stroke="#1a1a1a" stroke-width="0.25" textLength="56.12" lengthAdjust="spacingAndGlyphs" >10 kv/cm</text>
<line x1="498.7" y1="61.2" x2="528.4" y2="61.2" stroke="#118811" stroke-width="1.6"/>
<circle cx="513.6" cy="61.2" r="1.3" fill="#107a10"/>
<text x="532.57" y="65.59" font-size="11.41" fill="#1a1a1a" stroke="#1a1a1a" stroke-width="0.25" textLength="6.03" lengthAdjust="spacingAndGlyphs" >0</text>
<circle cx="541.55" cy="56.80" r="1.45" fill="none" stroke="#1a1a1a" stroke-width="0.85"/>
<text x="556.55" y="65.59" font-size="11.22" fill="#1a1a1a" stroke="#1a1a1a" stroke-width="0.25" textLength="49.39" lengthAdjust="spacingAndGlyphs" >0 kV/cm</text>
<line x1="498.7" y1="79.4" x2="528.4" y2="79.4" stroke="#d2d2d2" stroke-width="1.7"/>
<circle cx="513.6" cy="79.4" r="1.2" fill="#ddd" stroke="#bbb" stroke-width="0.5"/>
<text x="532.37" y="83.69" font-size="11.41" fill="#1a1a1a" stroke="#1a1a1a" stroke-width="0.25" textLength="14.07" lengthAdjust="spacingAndGlyphs" >90</text>
<circle cx="549.0" cy="74.90" r="1.45" fill="none" stroke="#1a1a1a" stroke-width="0.85"/>
<text x="556.01" y="83.69" font-size="11.22" fill="#1a1a1a" stroke="#1a1a1a" stroke-width="0.25" textLength="56.92" lengthAdjust="spacingAndGlyphs" >10 kV/cm</text>
</svg>
</body></html>
